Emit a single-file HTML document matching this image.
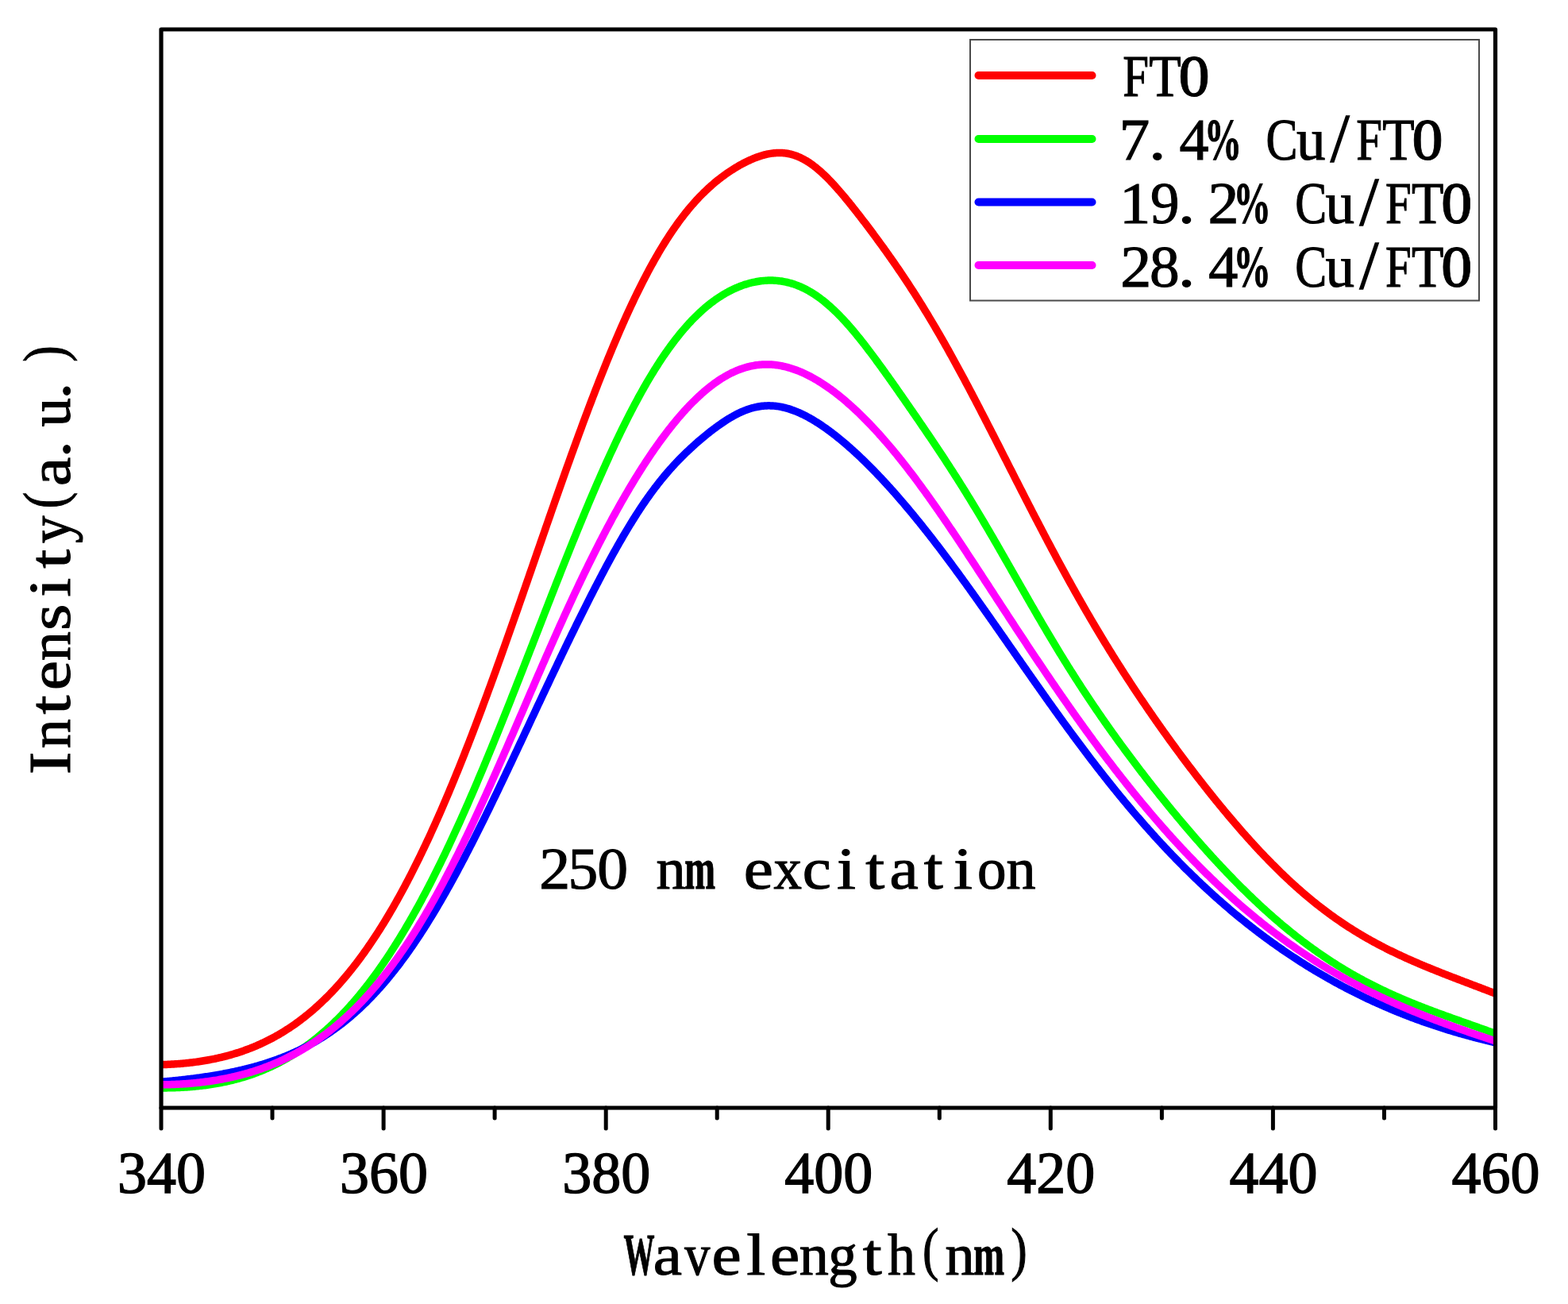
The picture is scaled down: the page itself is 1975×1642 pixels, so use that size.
<!DOCTYPE html>
<html><head><meta charset="utf-8"><title>PL spectra</title>
<style>html,body{margin:0;padding:0;background:#fff;}svg{display:block;filter:blur(0.45px);}</style>
</head><body>
<svg width="1975" height="1642" viewBox="0 0 1975 1642">
<rect width="1975" height="1642" fill="#fff"/>
<defs><clipPath id="pc"><rect x="203" y="37" width="1681" height="1358"/></clipPath></defs>
<g clip-path="url(#pc)" fill="none" stroke-width="9.5" stroke-linejoin="round" stroke-linecap="round">
<path d="M201.0 1340.70L202.5 1340.66L204.0 1340.62L205.5 1340.57L207.0 1340.52L208.5 1340.46L210.0 1340.40L211.5 1340.34L213.0 1340.27L214.5 1340.19L216.0 1340.11L217.5 1340.03L219.0 1339.93L220.5 1339.84L222.0 1339.74L223.5 1339.63L225.0 1339.52L226.5 1339.40L228.0 1339.28L229.5 1339.15L231.0 1339.01L232.5 1338.87L234.0 1338.73L235.5 1338.58L237.0 1338.42L238.5 1338.25L240.0 1338.08L241.5 1337.91L243.0 1337.73L244.5 1337.54L246.0 1337.34L247.5 1337.14L249.0 1336.93L250.5 1336.72L252.0 1336.50L253.5 1336.27L255.0 1336.03L256.5 1335.79L258.0 1335.54L259.5 1335.29L261.0 1335.03L262.5 1334.76L264.0 1334.48L265.5 1334.19L267.0 1333.90L268.5 1333.60L270.0 1333.29L271.5 1332.98L273.0 1332.66L274.5 1332.33L276.0 1331.99L277.5 1331.64L279.0 1331.29L280.5 1330.92L282.0 1330.55L283.5 1330.17L285.0 1329.78L286.5 1329.39L288.0 1328.98L289.5 1328.56L291.0 1328.14L292.5 1327.71L294.0 1327.27L295.5 1326.82L297.0 1326.36L298.5 1325.89L300.0 1325.41L301.5 1324.92L303.0 1324.42L304.5 1323.91L306.0 1323.40L307.5 1322.87L309.0 1322.33L310.5 1321.78L312.0 1321.23L313.5 1320.66L315.0 1320.08L316.5 1319.49L318.0 1318.89L319.5 1318.28L321.0 1317.66L322.5 1317.02L324.0 1316.38L325.5 1315.72L327.0 1315.06L328.5 1314.38L330.0 1313.69L331.5 1312.99L333.0 1312.28L334.5 1311.55L336.0 1310.82L337.5 1310.07L339.0 1309.31L340.5 1308.53L342.0 1307.75L343.5 1306.95L345.0 1306.14L346.5 1305.32L348.0 1304.48L349.5 1303.63L351.0 1302.77L352.5 1301.89L354.0 1301.00L355.5 1300.10L357.0 1299.19L358.5 1298.26L360.0 1297.31L361.5 1296.36L363.0 1295.38L364.5 1294.40L366.0 1293.40L367.5 1292.39L369.0 1291.36L370.5 1290.32L372.0 1289.26L373.5 1288.19L375.0 1287.10L376.5 1286.00L378.0 1284.88L379.5 1283.75L381.0 1282.60L382.5 1281.44L384.0 1280.26L385.5 1279.06L387.0 1277.85L388.5 1276.63L390.0 1275.39L391.5 1274.13L393.0 1272.85L394.5 1271.56L396.0 1270.25L397.5 1268.93L399.0 1267.59L400.5 1266.23L402.0 1264.86L403.5 1263.47L405.0 1262.06L406.5 1260.63L408.0 1259.19L409.5 1257.73L411.0 1256.25L412.5 1254.76L414.0 1253.24L415.5 1251.71L417.0 1250.16L418.5 1248.60L420.0 1247.01L421.5 1245.41L423.0 1243.78L424.5 1242.14L426.0 1240.49L427.5 1238.81L429.0 1237.11L430.5 1235.40L432.0 1233.66L433.5 1231.91L435.0 1230.14L436.5 1228.35L438.0 1226.54L439.5 1224.71L441.0 1222.86L442.5 1220.99L444.0 1219.10L445.5 1217.19L447.0 1215.26L448.5 1213.32L450.0 1211.35L451.5 1209.36L453.0 1207.35L454.5 1205.33L456.0 1203.28L457.5 1201.21L459.0 1199.12L460.5 1197.01L462.0 1194.88L463.5 1192.73L465.0 1190.56L466.5 1188.37L468.0 1186.16L469.5 1183.93L471.0 1181.67L472.5 1179.40L474.0 1177.11L475.5 1174.79L477.0 1172.45L478.5 1170.09L480.0 1167.72L481.5 1165.32L483.0 1162.89L484.5 1160.45L486.0 1157.99L487.5 1155.50L489.0 1153.00L490.5 1150.47L492.0 1147.92L493.5 1145.35L495.0 1142.76L496.5 1140.15L498.0 1137.51L499.5 1134.86L501.0 1132.18L502.5 1129.48L504.0 1126.76L505.5 1124.02L507.0 1121.26L508.5 1118.48L510.0 1115.67L511.5 1112.85L513.0 1110.00L514.5 1107.13L516.0 1104.24L517.5 1101.33L519.0 1098.40L520.5 1095.44L522.0 1092.47L523.5 1089.47L525.0 1086.46L526.5 1083.42L528.0 1080.36L529.5 1077.28L531.0 1074.18L532.5 1071.06L534.0 1067.92L535.5 1064.76L537.0 1061.57L538.5 1058.37L540.0 1055.14L541.5 1051.90L543.0 1048.63L544.5 1045.35L546.0 1042.04L547.5 1038.72L549.0 1035.37L550.5 1032.01L552.0 1028.62L553.5 1025.22L555.0 1021.80L556.5 1018.35L558.0 1014.89L559.5 1011.41L561.0 1007.91L562.5 1004.39L564.0 1000.85L565.5 997.29L567.0 993.71L568.5 990.12L570.0 986.51L571.5 982.88L573.0 979.23L574.5 975.56L576.0 971.88L577.5 968.17L579.0 964.45L580.5 960.72L582.0 956.96L583.5 953.19L585.0 949.41L586.5 945.60L588.0 941.78L589.5 937.95L591.0 934.10L592.5 930.23L594.0 926.35L595.5 922.45L597.0 918.54L598.5 914.61L600.0 910.66L601.5 906.71L603.0 902.74L604.5 898.75L606.0 894.75L607.5 890.74L609.0 886.71L610.5 882.67L612.0 878.62L613.5 874.56L615.0 870.48L616.5 866.39L618.0 862.29L619.5 858.18L621.0 854.05L622.5 849.92L624.0 845.77L625.5 841.62L627.0 837.45L628.5 833.27L630.0 829.09L631.5 824.89L633.0 820.69L634.5 816.47L636.0 812.25L637.5 808.02L639.0 803.78L640.5 799.54L642.0 795.28L643.5 791.02L645.0 786.76L646.5 782.48L648.0 778.20L649.5 773.92L651.0 769.63L652.5 765.33L654.0 761.03L655.5 756.73L657.0 752.42L658.5 748.10L660.0 743.79L661.5 739.47L663.0 735.14L664.5 730.82L666.0 726.49L667.5 722.16L669.0 717.83L670.5 713.50L672.0 709.16L673.5 704.83L675.0 700.50L676.5 696.16L678.0 691.83L679.5 687.50L681.0 683.17L682.5 678.84L684.0 674.51L685.5 670.19L687.0 665.87L688.5 661.55L690.0 657.23L691.5 652.92L693.0 648.61L694.5 644.31L696.0 640.01L697.5 635.72L699.0 631.43L700.5 627.15L702.0 622.88L703.5 618.61L705.0 614.35L706.5 610.09L708.0 605.85L709.5 601.61L711.0 597.38L712.5 593.16L714.0 588.95L715.5 584.75L717.0 580.56L718.5 576.37L720.0 572.20L721.5 568.04L723.0 563.90L724.5 559.76L726.0 555.64L727.5 551.52L729.0 547.42L730.5 543.34L732.0 539.27L733.5 535.21L735.0 531.16L736.5 527.14L738.0 523.12L739.5 519.12L741.0 515.14L742.5 511.17L744.0 507.22L745.5 503.28L747.0 499.37L748.5 495.47L750.0 491.58L751.5 487.72L753.0 483.87L754.5 480.04L756.0 476.23L757.5 472.44L759.0 468.67L760.5 464.92L762.0 461.19L763.5 457.48L765.0 453.79L766.5 450.13L768.0 446.48L769.5 442.86L771.0 439.25L772.5 435.67L774.0 432.11L775.5 428.58L777.0 425.07L778.5 421.58L780.0 418.11L781.5 414.67L783.0 411.25L784.5 407.86L786.0 404.49L787.5 401.15L789.0 397.83L790.5 394.53L792.0 391.27L793.5 388.02L795.0 384.81L796.5 381.62L798.0 378.45L799.5 375.32L801.0 372.21L802.5 369.13L804.0 366.07L805.5 363.04L807.0 360.04L808.5 357.07L810.0 354.12L811.5 351.21L813.0 348.32L814.5 345.46L816.0 342.63L817.5 339.82L819.0 337.05L820.5 334.30L822.0 331.59L823.5 328.90L825.0 326.24L826.5 323.61L828.0 321.01L829.5 318.45L831.0 315.91L832.5 313.39L834.0 310.91L835.5 308.46L837.0 306.04L838.5 303.65L840.0 301.29L841.5 298.96L843.0 296.66L844.5 294.38L846.0 292.14L847.5 289.93L849.0 287.75L850.5 285.59L852.0 283.47L853.5 281.38L855.0 279.31L856.5 277.28L858.0 275.27L859.5 273.29L861.0 271.34L862.5 269.43L864.0 267.54L865.5 265.67L867.0 263.84L868.5 262.04L870.0 260.26L871.5 258.51L873.0 256.79L874.5 255.09L876.0 253.43L877.5 251.79L879.0 250.17L880.5 248.59L882.0 247.02L883.5 245.49L885.0 243.98L886.5 242.50L888.0 241.04L889.5 239.60L891.0 238.19L892.5 236.80L894.0 235.44L895.5 234.10L897.0 232.78L898.5 231.49L900.0 230.22L901.5 228.97L903.0 227.74L904.5 226.54L906.0 225.35L907.5 224.19L909.0 223.05L910.5 221.92L912.0 220.82L913.5 219.74L915.0 218.68L916.5 217.63L918.0 216.61L919.5 215.60L921.0 214.62L922.5 213.65L924.0 212.70L925.5 211.77L927.0 210.86L928.5 209.97L930.0 209.09L931.5 208.24L933.0 207.40L934.5 206.58L936.0 205.78L937.5 205.00L939.0 204.24L940.5 203.50L942.0 202.78L943.5 202.08L945.0 201.39L946.5 200.73L948.0 200.09L949.5 199.47L951.0 198.88L952.5 198.30L954.0 197.75L955.5 197.22L957.0 196.72L958.5 196.24L960.0 195.78L961.5 195.36L963.0 194.95L964.5 194.58L966.0 194.23L967.5 193.91L969.0 193.63L970.5 193.37L972.0 193.14L973.5 192.94L975.0 192.78L976.5 192.64L978.0 192.54L979.5 192.48L981.0 192.45L982.5 192.46L984.0 192.50L985.5 192.58L987.0 192.69L988.5 192.84L990.0 193.04L991.5 193.27L993.0 193.54L994.5 193.84L996.0 194.19L997.5 194.58L999.0 195.01L1000.5 195.48L1002.0 195.99L1003.5 196.55L1005.0 197.14L1006.5 197.77L1008.0 198.45L1009.5 199.17L1011.0 199.92L1012.5 200.72L1014.0 201.56L1015.5 202.44L1017.0 203.36L1018.5 204.31L1020.0 205.31L1021.5 206.34L1023.0 207.42L1024.5 208.53L1026.0 209.67L1027.5 210.85L1029.0 212.07L1030.5 213.32L1032.0 214.61L1033.5 215.92L1035.0 217.27L1036.5 218.65L1038.0 220.06L1039.5 221.50L1041.0 222.97L1042.5 224.47L1044.0 225.99L1045.5 227.54L1047.0 229.12L1048.5 230.71L1050.0 232.33L1051.5 233.98L1053.0 235.64L1054.5 237.32L1056.0 239.03L1057.5 240.75L1059.0 242.49L1060.5 244.25L1062.0 246.02L1063.5 247.81L1065.0 249.61L1066.5 251.43L1068.0 253.26L1069.5 255.10L1071.0 256.95L1072.5 258.82L1074.0 260.70L1075.5 262.59L1077.0 264.48L1078.5 266.39L1080.0 268.31L1081.5 270.23L1083.0 272.17L1084.5 274.11L1086.0 276.06L1087.5 278.02L1089.0 279.98L1090.5 281.96L1092.0 283.94L1093.5 285.92L1095.0 287.92L1096.5 289.92L1098.0 291.93L1099.5 293.94L1101.0 295.96L1102.5 297.99L1104.0 300.03L1105.5 302.07L1107.0 304.12L1108.5 306.18L1110.0 308.24L1111.5 310.32L1113.0 312.40L1114.5 314.49L1116.0 316.58L1117.5 318.69L1119.0 320.80L1120.5 322.92L1122.0 325.05L1123.5 327.19L1125.0 329.34L1126.5 331.50L1128.0 333.67L1129.5 335.84L1131.0 338.03L1132.5 340.23L1134.0 342.44L1135.5 344.66L1137.0 346.88L1138.5 349.12L1140.0 351.37L1141.5 353.64L1143.0 355.91L1144.5 358.19L1146.0 360.49L1147.5 362.79L1149.0 365.11L1150.5 367.44L1152.0 369.79L1153.5 372.14L1155.0 374.50L1156.5 376.88L1158.0 379.27L1159.5 381.67L1161.0 384.09L1162.5 386.51L1164.0 388.95L1165.5 391.40L1167.0 393.87L1168.5 396.34L1170.0 398.83L1171.5 401.33L1173.0 403.84L1174.5 406.36L1176.0 408.89L1177.5 411.44L1179.0 414.00L1180.5 416.57L1182.0 419.15L1183.5 421.74L1185.0 424.34L1186.5 426.96L1188.0 429.59L1189.5 432.22L1191.0 434.87L1192.5 437.53L1194.0 440.20L1195.5 442.88L1197.0 445.57L1198.5 448.27L1200.0 450.98L1201.5 453.70L1203.0 456.43L1204.5 459.17L1206.0 461.92L1207.5 464.68L1209.0 467.45L1210.5 470.23L1212.0 473.01L1213.5 475.80L1215.0 478.61L1216.5 481.42L1218.0 484.23L1219.5 487.06L1221.0 489.89L1222.5 492.73L1224.0 495.58L1225.5 498.43L1227.0 501.29L1228.5 504.16L1230.0 507.03L1231.5 509.91L1233.0 512.79L1234.5 515.68L1236.0 518.58L1237.5 521.48L1239.0 524.38L1240.5 527.29L1242.0 530.21L1243.5 533.12L1245.0 536.05L1246.5 538.97L1248.0 541.90L1249.5 544.83L1251.0 547.77L1252.5 550.70L1254.0 553.64L1255.5 556.59L1257.0 559.53L1258.5 562.48L1260.0 565.43L1261.5 568.37L1263.0 571.33L1264.5 574.28L1266.0 577.23L1267.5 580.18L1269.0 583.13L1270.5 586.09L1272.0 589.04L1273.5 591.99L1275.0 594.94L1276.5 597.89L1278.0 600.84L1279.5 603.79L1281.0 606.74L1282.5 609.68L1284.0 612.62L1285.5 615.57L1287.0 618.50L1288.5 621.44L1290.0 624.37L1291.5 627.30L1293.0 630.23L1294.5 633.15L1296.0 636.07L1297.5 638.99L1299.0 641.90L1300.5 644.81L1302.0 647.72L1303.5 650.62L1305.0 653.51L1306.5 656.40L1308.0 659.29L1309.5 662.17L1311.0 665.05L1312.5 667.92L1314.0 670.78L1315.5 673.64L1317.0 676.49L1318.5 679.34L1320.0 682.18L1321.5 685.02L1323.0 687.84L1324.5 690.67L1326.0 693.48L1327.5 696.29L1329.0 699.09L1330.5 701.89L1332.0 704.68L1333.5 707.46L1335.0 710.23L1336.5 713.00L1338.0 715.76L1339.5 718.51L1341.0 721.25L1342.5 723.99L1344.0 726.72L1345.5 729.44L1347.0 732.15L1348.5 734.85L1350.0 737.55L1351.5 740.24L1353.0 742.92L1354.5 745.59L1356.0 748.26L1357.5 750.91L1359.0 753.56L1360.5 756.20L1362.0 758.83L1363.5 761.45L1365.0 764.07L1366.5 766.67L1368.0 769.27L1369.5 771.86L1371.0 774.44L1372.5 777.01L1374.0 779.57L1375.5 782.13L1377.0 784.67L1378.5 787.21L1380.0 789.74L1381.5 792.26L1383.0 794.77L1384.5 797.27L1386.0 799.77L1387.5 802.26L1389.0 804.73L1390.5 807.20L1392.0 809.67L1393.5 812.12L1395.0 814.56L1396.5 817.00L1398.0 819.43L1399.5 821.85L1401.0 824.26L1402.5 826.66L1404.0 829.06L1405.5 831.45L1407.0 833.83L1408.5 836.20L1410.0 838.56L1411.5 840.92L1413.0 843.26L1414.5 845.60L1416.0 847.94L1417.5 850.26L1419.0 852.58L1420.5 854.89L1422.0 857.19L1423.5 859.48L1425.0 861.77L1426.5 864.05L1428.0 866.32L1429.5 868.59L1431.0 870.85L1432.5 873.10L1434.0 875.34L1435.5 877.58L1437.0 879.81L1438.5 882.03L1440.0 884.24L1441.5 886.45L1443.0 888.65L1444.5 890.85L1446.0 893.04L1447.5 895.22L1449.0 897.40L1450.5 899.57L1452.0 901.73L1453.5 903.88L1455.0 906.03L1456.5 908.18L1458.0 910.32L1459.5 912.45L1461.0 914.57L1462.5 916.69L1464.0 918.80L1465.5 920.91L1467.0 923.01L1468.5 925.10L1470.0 927.19L1471.5 929.28L1473.0 931.35L1474.5 933.42L1476.0 935.49L1477.5 937.55L1479.0 939.60L1480.5 941.65L1482.0 943.69L1483.5 945.73L1485.0 947.76L1486.5 949.78L1488.0 951.80L1489.5 953.81L1491.0 955.82L1492.5 957.82L1494.0 959.82L1495.5 961.81L1497.0 963.80L1498.5 965.78L1500.0 967.75L1501.5 969.72L1503.0 971.68L1504.5 973.64L1506.0 975.59L1507.5 977.54L1509.0 979.48L1510.5 981.41L1512.0 983.34L1513.5 985.26L1515.0 987.18L1516.5 989.09L1518.0 991.00L1519.5 992.90L1521.0 994.80L1522.5 996.68L1524.0 998.57L1525.5 1000.45L1527.0 1002.32L1528.5 1004.18L1530.0 1006.04L1531.5 1007.89L1533.0 1009.74L1534.5 1011.58L1536.0 1013.42L1537.5 1015.25L1539.0 1017.07L1540.5 1018.89L1542.0 1020.70L1543.5 1022.50L1545.0 1024.30L1546.5 1026.09L1548.0 1027.88L1549.5 1029.66L1551.0 1031.43L1552.5 1033.19L1554.0 1034.95L1555.5 1036.71L1557.0 1038.45L1558.5 1040.19L1560.0 1041.92L1561.5 1043.65L1563.0 1045.37L1564.5 1047.08L1566.0 1048.78L1567.5 1050.48L1569.0 1052.17L1570.5 1053.85L1572.0 1055.53L1573.5 1057.20L1575.0 1058.86L1576.5 1060.51L1578.0 1062.16L1579.5 1063.80L1581.0 1065.43L1582.5 1067.05L1584.0 1068.67L1585.5 1070.28L1587.0 1071.88L1588.5 1073.47L1590.0 1075.06L1591.5 1076.64L1593.0 1078.21L1594.5 1079.77L1596.0 1081.32L1597.5 1082.87L1599.0 1084.40L1600.5 1085.93L1602.0 1087.46L1603.5 1088.97L1605.0 1090.47L1606.5 1091.97L1608.0 1093.46L1609.5 1094.94L1611.0 1096.41L1612.5 1097.87L1614.0 1099.33L1615.5 1100.77L1617.0 1102.21L1618.5 1103.64L1620.0 1105.06L1621.5 1106.47L1623.0 1107.88L1624.5 1109.27L1626.0 1110.66L1627.5 1112.03L1629.0 1113.40L1630.5 1114.76L1632.0 1116.11L1633.5 1117.45L1635.0 1118.79L1636.5 1120.11L1638.0 1121.43L1639.5 1122.74L1641.0 1124.03L1642.5 1125.32L1644.0 1126.60L1645.5 1127.87L1647.0 1129.14L1648.5 1130.39L1650.0 1131.64L1651.5 1132.87L1653.0 1134.10L1654.5 1135.32L1656.0 1136.53L1657.5 1137.73L1659.0 1138.92L1660.5 1140.11L1662.0 1141.28L1663.5 1142.45L1665.0 1143.61L1666.5 1144.76L1668.0 1145.90L1669.5 1147.03L1671.0 1148.15L1672.5 1149.27L1674.0 1150.37L1675.5 1151.47L1677.0 1152.56L1678.5 1153.64L1680.0 1154.71L1681.5 1155.78L1683.0 1156.83L1684.5 1157.88L1686.0 1158.92L1687.5 1159.95L1689.0 1160.97L1690.5 1161.99L1692.0 1162.99L1693.5 1163.99L1695.0 1164.98L1696.5 1165.97L1698.0 1166.94L1699.5 1167.91L1701.0 1168.87L1702.5 1169.82L1704.0 1170.77L1705.5 1171.70L1707.0 1172.63L1708.5 1173.55L1710.0 1174.47L1711.5 1175.38L1713.0 1176.28L1714.5 1177.17L1716.0 1178.06L1717.5 1178.93L1719.0 1179.81L1720.5 1180.67L1722.0 1181.53L1723.5 1182.38L1725.0 1183.23L1726.5 1184.06L1728.0 1184.90L1729.5 1185.72L1731.0 1186.54L1732.5 1187.35L1734.0 1188.16L1735.5 1188.96L1737.0 1189.75L1738.5 1190.54L1740.0 1191.33L1741.5 1192.10L1743.0 1192.87L1744.5 1193.64L1746.0 1194.40L1747.5 1195.15L1749.0 1195.90L1750.5 1196.64L1752.0 1197.38L1753.5 1198.12L1755.0 1198.84L1756.5 1199.57L1758.0 1200.29L1759.5 1201.00L1761.0 1201.71L1762.5 1202.41L1764.0 1203.11L1765.5 1203.81L1767.0 1204.50L1768.5 1205.19L1770.0 1205.87L1771.5 1206.55L1773.0 1207.22L1774.5 1207.89L1776.0 1208.56L1777.5 1209.22L1779.0 1209.88L1780.5 1210.53L1782.0 1211.18L1783.5 1211.83L1785.0 1212.48L1786.5 1213.12L1788.0 1213.76L1789.5 1214.39L1791.0 1215.02L1792.5 1215.65L1794.0 1216.28L1795.5 1216.90L1797.0 1217.52L1798.5 1218.14L1800.0 1218.76L1801.5 1219.37L1803.0 1219.98L1804.5 1220.59L1806.0 1221.19L1807.5 1221.80L1809.0 1222.40L1810.5 1223.00L1812.0 1223.60L1813.5 1224.19L1815.0 1224.79L1816.5 1225.38L1818.0 1225.97L1819.5 1226.56L1821.0 1227.14L1822.5 1227.73L1824.0 1228.31L1825.5 1228.90L1827.0 1229.48L1828.5 1230.06L1830.0 1230.64L1831.5 1231.22L1833.0 1231.80L1834.5 1232.37L1836.0 1232.95L1837.5 1233.52L1839.0 1234.10L1840.5 1234.67L1842.0 1235.25L1843.5 1235.82L1845.0 1236.39L1846.5 1236.96L1848.0 1237.53L1849.5 1238.11L1851.0 1238.68L1852.5 1239.25L1854.0 1239.82L1855.5 1240.39L1857.0 1240.96L1858.5 1241.53L1860.0 1242.10L1861.5 1242.67L1863.0 1243.24L1864.5 1243.81L1866.0 1244.38L1867.5 1244.95L1869.0 1245.53L1870.5 1246.10L1872.0 1246.67L1873.5 1247.25L1875.0 1247.82L1876.5 1248.39L1878.0 1248.97L1879.5 1249.55L1881.0 1250.12L1882.5 1250.70L1884.0 1251.28L1885.5 1251.86" stroke="#ff0000"/>
<path d="M201.0 1369.91L202.5 1369.92L204.0 1369.92L205.5 1369.92L207.0 1369.92L208.5 1369.91L210.0 1369.89L211.5 1369.87L213.0 1369.85L214.5 1369.82L216.0 1369.79L217.5 1369.75L219.0 1369.70L220.5 1369.66L222.0 1369.60L223.5 1369.55L225.0 1369.48L226.5 1369.41L228.0 1369.34L229.5 1369.26L231.0 1369.18L232.5 1369.09L234.0 1368.99L235.5 1368.89L237.0 1368.79L238.5 1368.67L240.0 1368.56L241.5 1368.43L243.0 1368.31L244.5 1368.17L246.0 1368.03L247.5 1367.88L249.0 1367.73L250.5 1367.57L252.0 1367.40L253.5 1367.23L255.0 1367.05L256.5 1366.87L258.0 1366.67L259.5 1366.48L261.0 1366.27L262.5 1366.06L264.0 1365.84L265.5 1365.61L267.0 1365.38L268.5 1365.14L270.0 1364.89L271.5 1364.64L273.0 1364.38L274.5 1364.11L276.0 1363.83L277.5 1363.55L279.0 1363.25L280.5 1362.95L282.0 1362.65L283.5 1362.33L285.0 1362.01L286.5 1361.68L288.0 1361.34L289.5 1360.99L291.0 1360.63L292.5 1360.27L294.0 1359.89L295.5 1359.51L297.0 1359.12L298.5 1358.72L300.0 1358.31L301.5 1357.89L303.0 1357.47L304.5 1357.03L306.0 1356.58L307.5 1356.13L309.0 1355.67L310.5 1355.19L312.0 1354.71L313.5 1354.22L315.0 1353.71L316.5 1353.20L318.0 1352.68L319.5 1352.15L321.0 1351.60L322.5 1351.05L324.0 1350.49L325.5 1349.91L327.0 1349.33L328.5 1348.73L330.0 1348.13L331.5 1347.51L333.0 1346.88L334.5 1346.24L336.0 1345.59L337.5 1344.93L339.0 1344.26L340.5 1343.58L342.0 1342.88L343.5 1342.18L345.0 1341.46L346.5 1340.73L348.0 1339.98L349.5 1339.23L351.0 1338.46L352.5 1337.68L354.0 1336.89L355.5 1336.09L357.0 1335.27L358.5 1334.45L360.0 1333.60L361.5 1332.75L363.0 1331.88L364.5 1331.00L366.0 1330.11L367.5 1329.20L369.0 1328.28L370.5 1327.35L372.0 1326.41L373.5 1325.45L375.0 1324.47L376.5 1323.48L378.0 1322.48L379.5 1321.47L381.0 1320.44L382.5 1319.39L384.0 1318.34L385.5 1317.26L387.0 1316.18L388.5 1315.08L390.0 1313.96L391.5 1312.83L393.0 1311.68L394.5 1310.52L396.0 1309.35L397.5 1308.16L399.0 1306.95L400.5 1305.73L402.0 1304.50L403.5 1303.24L405.0 1301.98L406.5 1300.69L408.0 1299.39L409.5 1298.08L411.0 1296.75L412.5 1295.40L414.0 1294.04L415.5 1292.66L417.0 1291.27L418.5 1289.85L420.0 1288.43L421.5 1286.98L423.0 1285.52L424.5 1284.04L426.0 1282.55L427.5 1281.04L429.0 1279.51L430.5 1277.97L432.0 1276.40L433.5 1274.82L435.0 1273.23L436.5 1271.61L438.0 1269.98L439.5 1268.33L441.0 1266.67L442.5 1264.99L444.0 1263.28L445.5 1261.57L447.0 1259.83L448.5 1258.08L450.0 1256.30L451.5 1254.51L453.0 1252.71L454.5 1250.88L456.0 1249.04L457.5 1247.18L459.0 1245.30L460.5 1243.40L462.0 1241.48L463.5 1239.55L465.0 1237.59L466.5 1235.62L468.0 1233.63L469.5 1231.62L471.0 1229.60L472.5 1227.55L474.0 1225.49L475.5 1223.40L477.0 1221.30L478.5 1219.18L480.0 1217.04L481.5 1214.88L483.0 1212.71L484.5 1210.51L486.0 1208.30L487.5 1206.07L489.0 1203.82L490.5 1201.55L492.0 1199.26L493.5 1196.95L495.0 1194.62L496.5 1192.28L498.0 1189.91L499.5 1187.53L501.0 1185.13L502.5 1182.71L504.0 1180.27L505.5 1177.81L507.0 1175.33L508.5 1172.83L510.0 1170.32L511.5 1167.79L513.0 1165.23L514.5 1162.66L516.0 1160.07L517.5 1157.46L519.0 1154.84L520.5 1152.19L522.0 1149.53L523.5 1146.84L525.0 1144.14L526.5 1141.42L528.0 1138.69L529.5 1135.93L531.0 1133.15L532.5 1130.36L534.0 1127.55L535.5 1124.72L537.0 1121.87L538.5 1119.01L540.0 1116.13L541.5 1113.23L543.0 1110.31L544.5 1107.37L546.0 1104.42L547.5 1101.45L549.0 1098.46L550.5 1095.45L552.0 1092.43L553.5 1089.39L555.0 1086.33L556.5 1083.25L558.0 1080.16L559.5 1077.06L561.0 1073.93L562.5 1070.79L564.0 1067.63L565.5 1064.46L567.0 1061.27L568.5 1058.06L570.0 1054.84L571.5 1051.60L573.0 1048.35L574.5 1045.08L576.0 1041.79L577.5 1038.50L579.0 1035.18L580.5 1031.85L582.0 1028.51L583.5 1025.15L585.0 1021.77L586.5 1018.39L588.0 1014.98L589.5 1011.57L591.0 1008.14L592.5 1004.69L594.0 1001.24L595.5 997.77L597.0 994.28L598.5 990.79L600.0 987.28L601.5 983.75L603.0 980.22L604.5 976.67L606.0 973.12L607.5 969.55L609.0 965.96L610.5 962.37L612.0 958.77L613.5 955.15L615.0 951.52L616.5 947.89L618.0 944.24L619.5 940.58L621.0 936.91L622.5 933.24L624.0 929.55L625.5 925.86L627.0 922.15L628.5 918.44L630.0 914.72L631.5 910.99L633.0 907.25L634.5 903.50L636.0 899.75L637.5 895.99L639.0 892.22L640.5 888.44L642.0 884.66L643.5 880.88L645.0 877.08L646.5 873.28L648.0 869.48L649.5 865.67L651.0 861.85L652.5 858.03L654.0 854.21L655.5 850.38L657.0 846.55L658.5 842.72L660.0 838.88L661.5 835.04L663.0 831.19L664.5 827.34L666.0 823.50L667.5 819.64L669.0 815.79L670.5 811.94L672.0 808.08L673.5 804.23L675.0 800.37L676.5 796.52L678.0 792.66L679.5 788.81L681.0 784.95L682.5 781.10L684.0 777.25L685.5 773.40L687.0 769.55L688.5 765.70L690.0 761.86L691.5 758.02L693.0 754.18L694.5 750.35L696.0 746.52L697.5 742.70L699.0 738.88L700.5 735.06L702.0 731.25L703.5 727.44L705.0 723.64L706.5 719.85L708.0 716.06L709.5 712.28L711.0 708.51L712.5 704.74L714.0 700.99L715.5 697.24L717.0 693.49L718.5 689.76L720.0 686.04L721.5 682.32L723.0 678.61L724.5 674.92L726.0 671.23L727.5 667.56L729.0 663.89L730.5 660.24L732.0 656.60L733.5 652.97L735.0 649.35L736.5 645.74L738.0 642.15L739.5 638.57L741.0 635.00L742.5 631.45L744.0 627.91L745.5 624.38L747.0 620.87L748.5 617.37L750.0 613.89L751.5 610.43L753.0 606.98L754.5 603.54L756.0 600.12L757.5 596.72L759.0 593.34L760.5 589.97L762.0 586.62L763.5 583.28L765.0 579.97L766.5 576.67L768.0 573.39L769.5 570.13L771.0 566.89L772.5 563.67L774.0 560.47L775.5 557.29L777.0 554.12L778.5 550.98L780.0 547.86L781.5 544.76L783.0 541.68L784.5 538.62L786.0 535.58L787.5 532.57L789.0 529.57L790.5 526.60L792.0 523.65L793.5 520.73L795.0 517.82L796.5 514.94L798.0 512.09L799.5 509.25L801.0 506.44L802.5 503.65L804.0 500.89L805.5 498.15L807.0 495.44L808.5 492.75L810.0 490.08L811.5 487.44L813.0 484.83L814.5 482.24L816.0 479.67L817.5 477.13L819.0 474.62L820.5 472.13L822.0 469.67L823.5 467.23L825.0 464.82L826.5 462.44L828.0 460.08L829.5 457.75L831.0 455.44L832.5 453.16L834.0 450.91L835.5 448.69L837.0 446.49L838.5 444.31L840.0 442.17L841.5 440.05L843.0 437.96L844.5 435.90L846.0 433.86L847.5 431.85L849.0 429.86L850.5 427.91L852.0 425.98L853.5 424.08L855.0 422.20L856.5 420.35L858.0 418.53L859.5 416.74L861.0 414.97L862.5 413.23L864.0 411.52L865.5 409.83L867.0 408.17L868.5 406.54L870.0 404.93L871.5 403.35L873.0 401.80L874.5 400.27L876.0 398.77L877.5 397.30L879.0 395.85L880.5 394.43L882.0 393.03L883.5 391.66L885.0 390.32L886.5 389.00L888.0 387.71L889.5 386.44L891.0 385.20L892.5 383.98L894.0 382.79L895.5 381.62L897.0 380.48L898.5 379.36L900.0 378.27L901.5 377.20L903.0 376.16L904.5 375.14L906.0 374.14L907.5 373.17L909.0 372.22L910.5 371.30L912.0 370.40L913.5 369.52L915.0 368.67L916.5 367.84L918.0 367.03L919.5 366.25L921.0 365.49L922.5 364.75L924.0 364.04L925.5 363.34L927.0 362.68L928.5 362.03L930.0 361.41L931.5 360.80L933.0 360.23L934.5 359.67L936.0 359.13L937.5 358.62L939.0 358.13L940.5 357.67L942.0 357.22L943.5 356.80L945.0 356.40L946.5 356.02L948.0 355.67L949.5 355.34L951.0 355.03L952.5 354.74L954.0 354.47L955.5 354.23L957.0 354.01L958.5 353.81L960.0 353.64L961.5 353.49L963.0 353.36L964.5 353.26L966.0 353.18L967.5 353.12L969.0 353.08L970.5 353.07L972.0 353.09L973.5 353.12L975.0 353.18L976.5 353.27L978.0 353.38L979.5 353.51L981.0 353.67L982.5 353.86L984.0 354.07L985.5 354.30L987.0 354.56L988.5 354.85L990.0 355.16L991.5 355.50L993.0 355.86L994.5 356.25L996.0 356.67L997.5 357.11L999.0 357.59L1000.5 358.08L1002.0 358.61L1003.5 359.16L1005.0 359.74L1006.5 360.34L1008.0 360.98L1009.5 361.64L1011.0 362.33L1012.5 363.05L1014.0 363.79L1015.5 364.56L1017.0 365.37L1018.5 366.20L1020.0 367.05L1021.5 367.94L1023.0 368.85L1024.5 369.80L1026.0 370.77L1027.5 371.76L1029.0 372.79L1030.5 373.84L1032.0 374.93L1033.5 376.04L1035.0 377.17L1036.5 378.34L1038.0 379.53L1039.5 380.75L1041.0 382.00L1042.5 383.27L1044.0 384.57L1045.5 385.90L1047.0 387.25L1048.5 388.63L1050.0 390.03L1051.5 391.46L1053.0 392.91L1054.5 394.39L1056.0 395.89L1057.5 397.42L1059.0 398.97L1060.5 400.54L1062.0 402.13L1063.5 403.75L1065.0 405.39L1066.5 407.05L1068.0 408.73L1069.5 410.43L1071.0 412.15L1072.5 413.89L1074.0 415.66L1075.5 417.43L1077.0 419.23L1078.5 421.04L1080.0 422.88L1081.5 424.72L1083.0 426.59L1084.5 428.47L1086.0 430.36L1087.5 432.27L1089.0 434.19L1090.5 436.13L1092.0 438.08L1093.5 440.04L1095.0 442.02L1096.5 444.00L1098.0 446.00L1099.5 448.01L1101.0 450.02L1102.5 452.05L1104.0 454.09L1105.5 456.13L1107.0 458.18L1108.5 460.25L1110.0 462.31L1111.5 464.39L1113.0 466.47L1114.5 468.56L1116.0 470.66L1117.5 472.76L1119.0 474.86L1120.5 476.97L1122.0 479.09L1123.5 481.21L1125.0 483.34L1126.5 485.46L1128.0 487.60L1129.5 489.73L1131.0 491.87L1132.5 494.02L1134.0 496.16L1135.5 498.31L1137.0 500.46L1138.5 502.62L1140.0 504.78L1141.5 506.94L1143.0 509.10L1144.5 511.26L1146.0 513.43L1147.5 515.60L1149.0 517.77L1150.5 519.95L1152.0 522.13L1153.5 524.31L1155.0 526.49L1156.5 528.68L1158.0 530.86L1159.5 533.06L1161.0 535.25L1162.5 537.45L1164.0 539.65L1165.5 541.85L1167.0 544.06L1168.5 546.27L1170.0 548.49L1171.5 550.71L1173.0 552.94L1174.5 555.16L1176.0 557.40L1177.5 559.64L1179.0 561.88L1180.5 564.13L1182.0 566.38L1183.5 568.64L1185.0 570.90L1186.5 573.17L1188.0 575.45L1189.5 577.73L1191.0 580.02L1192.5 582.32L1194.0 584.62L1195.5 586.93L1197.0 589.25L1198.5 591.57L1200.0 593.90L1201.5 596.24L1203.0 598.58L1204.5 600.93L1206.0 603.29L1207.5 605.66L1209.0 608.04L1210.5 610.42L1212.0 612.82L1213.5 615.22L1215.0 617.62L1216.5 620.04L1218.0 622.46L1219.5 624.90L1221.0 627.34L1222.5 629.78L1224.0 632.24L1225.5 634.70L1227.0 637.18L1228.5 639.66L1230.0 642.15L1231.5 644.64L1233.0 647.14L1234.5 649.65L1236.0 652.17L1237.5 654.70L1239.0 657.23L1240.5 659.77L1242.0 662.31L1243.5 664.86L1245.0 667.42L1246.5 669.99L1248.0 672.56L1249.5 675.13L1251.0 677.71L1252.5 680.30L1254.0 682.89L1255.5 685.49L1257.0 688.09L1258.5 690.69L1260.0 693.30L1261.5 695.91L1263.0 698.53L1264.5 701.15L1266.0 703.77L1267.5 706.39L1269.0 709.02L1270.5 711.64L1272.0 714.27L1273.5 716.90L1275.0 719.53L1276.5 722.17L1278.0 724.80L1279.5 727.43L1281.0 730.06L1282.5 732.70L1284.0 735.33L1285.5 737.96L1287.0 740.58L1288.5 743.21L1290.0 745.84L1291.5 748.46L1293.0 751.08L1294.5 753.70L1296.0 756.31L1297.5 758.92L1299.0 761.53L1300.5 764.13L1302.0 766.73L1303.5 769.32L1305.0 771.91L1306.5 774.50L1308.0 777.08L1309.5 779.65L1311.0 782.22L1312.5 784.78L1314.0 787.34L1315.5 789.89L1317.0 792.44L1318.5 794.97L1320.0 797.50L1321.5 800.03L1323.0 802.55L1324.5 805.06L1326.0 807.56L1327.5 810.06L1329.0 812.55L1330.5 815.03L1332.0 817.50L1333.5 819.97L1335.0 822.42L1336.5 824.87L1338.0 827.31L1339.5 829.75L1341.0 832.17L1342.5 834.59L1344.0 837.00L1345.5 839.40L1347.0 841.79L1348.5 844.17L1350.0 846.55L1351.5 848.91L1353.0 851.27L1354.5 853.62L1356.0 855.96L1357.5 858.29L1359.0 860.62L1360.5 862.93L1362.0 865.24L1363.5 867.54L1365.0 869.83L1366.5 872.11L1368.0 874.38L1369.5 876.65L1371.0 878.91L1372.5 881.16L1374.0 883.40L1375.5 885.63L1377.0 887.85L1378.5 890.07L1380.0 892.28L1381.5 894.48L1383.0 896.67L1384.5 898.86L1386.0 901.04L1387.5 903.21L1389.0 905.37L1390.5 907.53L1392.0 909.67L1393.5 911.82L1395.0 913.95L1396.5 916.08L1398.0 918.19L1399.5 920.31L1401.0 922.41L1402.5 924.51L1404.0 926.60L1405.5 928.69L1407.0 930.77L1408.5 932.84L1410.0 934.90L1411.5 936.96L1413.0 939.02L1414.5 941.06L1416.0 943.10L1417.5 945.14L1419.0 947.16L1420.5 949.18L1422.0 951.20L1423.5 953.21L1425.0 955.21L1426.5 957.21L1428.0 959.20L1429.5 961.19L1431.0 963.17L1432.5 965.15L1434.0 967.12L1435.5 969.08L1437.0 971.04L1438.5 972.99L1440.0 974.94L1441.5 976.88L1443.0 978.82L1444.5 980.75L1446.0 982.68L1447.5 984.60L1449.0 986.52L1450.5 988.43L1452.0 990.33L1453.5 992.24L1455.0 994.13L1456.5 996.02L1458.0 997.91L1459.5 999.79L1461.0 1001.66L1462.5 1003.53L1464.0 1005.40L1465.5 1007.26L1467.0 1009.11L1468.5 1010.96L1470.0 1012.81L1471.5 1014.65L1473.0 1016.48L1474.5 1018.31L1476.0 1020.14L1477.5 1021.96L1479.0 1023.77L1480.5 1025.58L1482.0 1027.39L1483.5 1029.19L1485.0 1030.98L1486.5 1032.77L1488.0 1034.55L1489.5 1036.33L1491.0 1038.11L1492.5 1039.88L1494.0 1041.64L1495.5 1043.40L1497.0 1045.15L1498.5 1046.90L1500.0 1048.64L1501.5 1050.38L1503.0 1052.11L1504.5 1053.84L1506.0 1055.56L1507.5 1057.28L1509.0 1058.99L1510.5 1060.70L1512.0 1062.40L1513.5 1064.09L1515.0 1065.78L1516.5 1067.46L1518.0 1069.14L1519.5 1070.81L1521.0 1072.48L1522.5 1074.14L1524.0 1075.80L1525.5 1077.45L1527.0 1079.09L1528.5 1080.73L1530.0 1082.37L1531.5 1083.99L1533.0 1085.61L1534.5 1087.23L1536.0 1088.84L1537.5 1090.44L1539.0 1092.04L1540.5 1093.63L1542.0 1095.22L1543.5 1096.80L1545.0 1098.37L1546.5 1099.94L1548.0 1101.50L1549.5 1103.06L1551.0 1104.61L1552.5 1106.15L1554.0 1107.69L1555.5 1109.22L1557.0 1110.74L1558.5 1112.26L1560.0 1113.77L1561.5 1115.28L1563.0 1116.78L1564.5 1118.27L1566.0 1119.75L1567.5 1121.23L1569.0 1122.71L1570.5 1124.17L1572.0 1125.63L1573.5 1127.09L1575.0 1128.53L1576.5 1129.97L1578.0 1131.41L1579.5 1132.83L1581.0 1134.25L1582.5 1135.67L1584.0 1137.07L1585.5 1138.47L1587.0 1139.87L1588.5 1141.25L1590.0 1142.63L1591.5 1144.01L1593.0 1145.37L1594.5 1146.73L1596.0 1148.08L1597.5 1149.43L1599.0 1150.77L1600.5 1152.10L1602.0 1153.42L1603.5 1154.74L1605.0 1156.05L1606.5 1157.36L1608.0 1158.65L1609.5 1159.94L1611.0 1161.23L1612.5 1162.50L1614.0 1163.77L1615.5 1165.03L1617.0 1166.29L1618.5 1167.53L1620.0 1168.77L1621.5 1170.01L1623.0 1171.23L1624.5 1172.45L1626.0 1173.66L1627.5 1174.87L1629.0 1176.07L1630.5 1177.26L1632.0 1178.44L1633.5 1179.62L1635.0 1180.79L1636.5 1181.95L1638.0 1183.11L1639.5 1184.25L1641.0 1185.40L1642.5 1186.53L1644.0 1187.66L1645.5 1188.78L1647.0 1189.89L1648.5 1191.00L1650.0 1192.10L1651.5 1193.19L1653.0 1194.27L1654.5 1195.35L1656.0 1196.42L1657.5 1197.49L1659.0 1198.54L1660.5 1199.59L1662.0 1200.64L1663.5 1201.67L1665.0 1202.70L1666.5 1203.72L1668.0 1204.74L1669.5 1205.75L1671.0 1206.75L1672.5 1207.74L1674.0 1208.73L1675.5 1209.71L1677.0 1210.69L1678.5 1211.66L1680.0 1212.62L1681.5 1213.57L1683.0 1214.52L1684.5 1215.46L1686.0 1216.40L1687.5 1217.33L1689.0 1218.25L1690.5 1219.16L1692.0 1220.07L1693.5 1220.97L1695.0 1221.87L1696.5 1222.76L1698.0 1223.64L1699.5 1224.52L1701.0 1225.39L1702.5 1226.25L1704.0 1227.11L1705.5 1227.97L1707.0 1228.81L1708.5 1229.65L1710.0 1230.48L1711.5 1231.31L1713.0 1232.13L1714.5 1232.95L1716.0 1233.76L1717.5 1234.57L1719.0 1235.36L1720.5 1236.16L1722.0 1236.94L1723.5 1237.73L1725.0 1238.50L1726.5 1239.27L1728.0 1240.04L1729.5 1240.80L1731.0 1241.55L1732.5 1242.30L1734.0 1243.04L1735.5 1243.78L1737.0 1244.51L1738.5 1245.24L1740.0 1245.96L1741.5 1246.68L1743.0 1247.39L1744.5 1248.10L1746.0 1248.80L1747.5 1249.50L1749.0 1250.20L1750.5 1250.88L1752.0 1251.57L1753.5 1252.25L1755.0 1252.92L1756.5 1253.59L1758.0 1254.26L1759.5 1254.92L1761.0 1255.58L1762.5 1256.23L1764.0 1256.88L1765.5 1257.53L1767.0 1258.17L1768.5 1258.81L1770.0 1259.44L1771.5 1260.07L1773.0 1260.69L1774.5 1261.32L1776.0 1261.93L1777.5 1262.55L1779.0 1263.16L1780.5 1263.77L1782.0 1264.37L1783.5 1264.98L1785.0 1265.57L1786.5 1266.17L1788.0 1266.76L1789.5 1267.35L1791.0 1267.94L1792.5 1268.52L1794.0 1269.10L1795.5 1269.68L1797.0 1270.25L1798.5 1270.83L1800.0 1271.40L1801.5 1271.97L1803.0 1272.53L1804.5 1273.09L1806.0 1273.66L1807.5 1274.21L1809.0 1274.77L1810.5 1275.33L1812.0 1275.88L1813.5 1276.43L1815.0 1276.98L1816.5 1277.53L1818.0 1278.08L1819.5 1278.62L1821.0 1279.16L1822.5 1279.71L1824.0 1280.25L1825.5 1280.79L1827.0 1281.32L1828.5 1281.86L1830.0 1282.40L1831.5 1282.93L1833.0 1283.47L1834.5 1284.00L1836.0 1284.54L1837.5 1285.07L1839.0 1285.60L1840.5 1286.13L1842.0 1286.67L1843.5 1287.20L1845.0 1287.73L1846.5 1288.26L1848.0 1288.79L1849.5 1289.32L1851.0 1289.85L1852.5 1290.38L1854.0 1290.92L1855.5 1291.45L1857.0 1291.98L1858.5 1292.51L1860.0 1293.05L1861.5 1293.58L1863.0 1294.12L1864.5 1294.65L1866.0 1295.19L1867.5 1295.73L1869.0 1296.26L1870.5 1296.80L1872.0 1297.34L1873.5 1297.89L1875.0 1298.43L1876.5 1298.98L1878.0 1299.52L1879.5 1300.07L1881.0 1300.62L1882.5 1301.17L1884.0 1301.72L1885.5 1302.28" stroke="#00ff00"/>
<path d="M201.0 1362.46L202.5 1362.33L204.0 1362.20L205.5 1362.07L207.0 1361.94L208.5 1361.81L210.0 1361.67L211.5 1361.53L213.0 1361.39L214.5 1361.25L216.0 1361.11L217.5 1360.96L219.0 1360.81L220.5 1360.66L222.0 1360.51L223.5 1360.35L225.0 1360.19L226.5 1360.03L228.0 1359.87L229.5 1359.70L231.0 1359.54L232.5 1359.37L234.0 1359.19L235.5 1359.02L237.0 1358.84L238.5 1358.66L240.0 1358.48L241.5 1358.29L243.0 1358.10L244.5 1357.91L246.0 1357.71L247.5 1357.52L249.0 1357.32L250.5 1357.11L252.0 1356.90L253.5 1356.69L255.0 1356.48L256.5 1356.26L258.0 1356.04L259.5 1355.82L261.0 1355.60L262.5 1355.36L264.0 1355.13L265.5 1354.89L267.0 1354.65L268.5 1354.41L270.0 1354.16L271.5 1353.91L273.0 1353.65L274.5 1353.39L276.0 1353.13L277.5 1352.86L279.0 1352.59L280.5 1352.31L282.0 1352.03L283.5 1351.75L285.0 1351.46L286.5 1351.17L288.0 1350.87L289.5 1350.57L291.0 1350.26L292.5 1349.95L294.0 1349.63L295.5 1349.31L297.0 1348.99L298.5 1348.66L300.0 1348.32L301.5 1347.98L303.0 1347.63L304.5 1347.28L306.0 1346.93L307.5 1346.56L309.0 1346.20L310.5 1345.82L312.0 1345.44L313.5 1345.06L315.0 1344.67L316.5 1344.27L318.0 1343.87L319.5 1343.46L321.0 1343.05L322.5 1342.63L324.0 1342.20L325.5 1341.77L327.0 1341.33L328.5 1340.88L330.0 1340.43L331.5 1339.96L333.0 1339.50L334.5 1339.02L336.0 1338.54L337.5 1338.05L339.0 1337.56L340.5 1337.06L342.0 1336.55L343.5 1336.03L345.0 1335.50L346.5 1334.97L348.0 1334.43L349.5 1333.88L351.0 1333.32L352.5 1332.75L354.0 1332.18L355.5 1331.60L357.0 1331.01L358.5 1330.41L360.0 1329.80L361.5 1329.18L363.0 1328.55L364.5 1327.92L366.0 1327.27L367.5 1326.62L369.0 1325.96L370.5 1325.28L372.0 1324.60L373.5 1323.91L375.0 1323.20L376.5 1322.49L378.0 1321.77L379.5 1321.04L381.0 1320.29L382.5 1319.54L384.0 1318.77L385.5 1318.00L387.0 1317.21L388.5 1316.42L390.0 1315.61L391.5 1314.79L393.0 1313.96L394.5 1313.11L396.0 1312.26L397.5 1311.39L399.0 1310.52L400.5 1309.63L402.0 1308.72L403.5 1307.81L405.0 1306.88L406.5 1305.94L408.0 1304.99L409.5 1304.03L411.0 1303.05L412.5 1302.06L414.0 1301.05L415.5 1300.04L417.0 1299.01L418.5 1297.96L420.0 1296.90L421.5 1295.83L423.0 1294.75L424.5 1293.65L426.0 1292.53L427.5 1291.40L429.0 1290.26L430.5 1289.11L432.0 1287.93L433.5 1286.75L435.0 1285.55L436.5 1284.33L438.0 1283.10L439.5 1281.85L441.0 1280.59L442.5 1279.31L444.0 1278.02L445.5 1276.71L447.0 1275.39L448.5 1274.05L450.0 1272.69L451.5 1271.32L453.0 1269.93L454.5 1268.53L456.0 1267.10L457.5 1265.67L459.0 1264.21L460.5 1262.74L462.0 1261.26L463.5 1259.75L465.0 1258.23L466.5 1256.69L468.0 1255.14L469.5 1253.56L471.0 1251.97L472.5 1250.37L474.0 1248.74L475.5 1247.10L477.0 1245.44L478.5 1243.76L480.0 1242.07L481.5 1240.36L483.0 1238.63L484.5 1236.88L486.0 1235.11L487.5 1233.33L489.0 1231.53L490.5 1229.71L492.0 1227.87L493.5 1226.02L495.0 1224.14L496.5 1222.25L498.0 1220.34L499.5 1218.41L501.0 1216.47L502.5 1214.50L504.0 1212.52L505.5 1210.52L507.0 1208.50L508.5 1206.46L510.0 1204.41L511.5 1202.34L513.0 1200.25L514.5 1198.14L516.0 1196.01L517.5 1193.86L519.0 1191.70L520.5 1189.52L522.0 1187.32L523.5 1185.10L525.0 1182.87L526.5 1180.62L528.0 1178.34L529.5 1176.06L531.0 1173.75L532.5 1171.43L534.0 1169.09L535.5 1166.73L537.0 1164.35L538.5 1161.96L540.0 1159.55L541.5 1157.12L543.0 1154.68L544.5 1152.22L546.0 1149.74L547.5 1147.25L549.0 1144.74L550.5 1142.21L552.0 1139.67L553.5 1137.11L555.0 1134.54L556.5 1131.95L558.0 1129.34L559.5 1126.72L561.0 1124.08L562.5 1121.43L564.0 1118.76L565.5 1116.08L567.0 1113.38L568.5 1110.67L570.0 1107.94L571.5 1105.20L573.0 1102.44L574.5 1099.68L576.0 1096.89L577.5 1094.10L579.0 1091.29L580.5 1088.46L582.0 1085.63L583.5 1082.78L585.0 1079.92L586.5 1077.05L588.0 1074.16L589.5 1071.26L591.0 1068.35L592.5 1065.43L594.0 1062.50L595.5 1059.56L597.0 1056.60L598.5 1053.64L600.0 1050.66L601.5 1047.68L603.0 1044.68L604.5 1041.67L606.0 1038.66L607.5 1035.64L609.0 1032.60L610.5 1029.56L612.0 1026.51L613.5 1023.45L615.0 1020.38L616.5 1017.31L618.0 1014.22L619.5 1011.13L621.0 1008.04L622.5 1004.93L624.0 1001.82L625.5 998.70L627.0 995.58L628.5 992.45L630.0 989.31L631.5 986.17L633.0 983.03L634.5 979.88L636.0 976.72L637.5 973.56L639.0 970.39L640.5 967.22L642.0 964.05L643.5 960.87L645.0 957.69L646.5 954.51L648.0 951.33L649.5 948.14L651.0 944.95L652.5 941.75L654.0 938.56L655.5 935.36L657.0 932.16L658.5 928.96L660.0 925.76L661.5 922.56L663.0 919.36L664.5 916.16L666.0 912.95L667.5 909.75L669.0 906.55L670.5 903.35L672.0 900.14L673.5 896.94L675.0 893.74L676.5 890.54L678.0 887.35L679.5 884.15L681.0 880.96L682.5 877.77L684.0 874.58L685.5 871.39L687.0 868.21L688.5 865.02L690.0 861.85L691.5 858.67L693.0 855.50L694.5 852.33L696.0 849.17L697.5 846.00L699.0 842.85L700.5 839.70L702.0 836.55L703.5 833.40L705.0 830.26L706.5 827.13L708.0 824.00L709.5 820.88L711.0 817.76L712.5 814.65L714.0 811.54L715.5 808.44L717.0 805.35L718.5 802.26L720.0 799.18L721.5 796.11L723.0 793.04L724.5 789.98L726.0 786.93L727.5 783.88L729.0 780.84L730.5 777.81L732.0 774.79L733.5 771.78L735.0 768.77L736.5 765.78L738.0 762.79L739.5 759.81L741.0 756.84L742.5 753.88L744.0 750.93L745.5 747.99L747.0 745.06L748.5 742.14L750.0 739.23L751.5 736.34L753.0 733.45L754.5 730.58L756.0 727.71L757.5 724.86L759.0 722.02L760.5 719.20L762.0 716.38L763.5 713.59L765.0 710.80L766.5 708.03L768.0 705.27L769.5 702.53L771.0 699.80L772.5 697.08L774.0 694.39L775.5 691.70L777.0 689.04L778.5 686.39L780.0 683.76L781.5 681.14L783.0 678.55L784.5 675.97L786.0 673.40L787.5 670.86L789.0 668.34L790.5 665.83L792.0 663.35L793.5 660.89L795.0 658.44L796.5 656.02L798.0 653.62L799.5 651.23L801.0 648.88L802.5 646.54L804.0 644.22L805.5 641.93L807.0 639.66L808.5 637.41L810.0 635.18L811.5 632.98L813.0 630.80L814.5 628.65L816.0 626.52L817.5 624.41L819.0 622.32L820.5 620.26L822.0 618.23L823.5 616.21L825.0 614.23L826.5 612.26L828.0 610.32L829.5 608.40L831.0 606.50L832.5 604.63L834.0 602.78L835.5 600.96L837.0 599.15L838.5 597.37L840.0 595.61L841.5 593.88L843.0 592.16L844.5 590.47L846.0 588.79L847.5 587.14L849.0 585.51L850.5 583.89L852.0 582.30L853.5 580.72L855.0 579.17L856.5 577.63L858.0 576.11L859.5 574.60L861.0 573.11L862.5 571.64L864.0 570.19L865.5 568.75L867.0 567.32L868.5 565.92L870.0 564.52L871.5 563.14L873.0 561.77L874.5 560.42L876.0 559.08L877.5 557.76L879.0 556.45L880.5 555.15L882.0 553.86L883.5 552.59L885.0 551.33L886.5 550.08L888.0 548.84L889.5 547.62L891.0 546.41L892.5 545.21L894.0 544.03L895.5 542.86L897.0 541.71L898.5 540.56L900.0 539.44L901.5 538.32L903.0 537.22L904.5 536.14L906.0 535.07L907.5 534.02L909.0 532.99L910.5 531.97L912.0 530.97L913.5 529.99L915.0 529.03L916.5 528.08L918.0 527.16L919.5 526.25L921.0 525.37L922.5 524.51L924.0 523.67L925.5 522.85L927.0 522.06L928.5 521.29L930.0 520.54L931.5 519.82L933.0 519.12L934.5 518.45L936.0 517.80L937.5 517.19L939.0 516.59L940.5 516.03L942.0 515.49L943.5 514.99L945.0 514.51L946.5 514.06L948.0 513.63L949.5 513.24L951.0 512.88L952.5 512.54L954.0 512.24L955.5 511.97L957.0 511.72L958.5 511.51L960.0 511.33L961.5 511.17L963.0 511.05L964.5 510.96L966.0 510.89L967.5 510.86L969.0 510.86L970.5 510.88L972.0 510.94L973.5 511.02L975.0 511.14L976.5 511.28L978.0 511.45L979.5 511.65L981.0 511.88L982.5 512.13L984.0 512.42L985.5 512.73L987.0 513.06L988.5 513.43L990.0 513.81L991.5 514.23L993.0 514.67L994.5 515.13L996.0 515.62L997.5 516.14L999.0 516.68L1000.5 517.24L1002.0 517.82L1003.5 518.43L1005.0 519.06L1006.5 519.71L1008.0 520.38L1009.5 521.08L1011.0 521.79L1012.5 522.53L1014.0 523.29L1015.5 524.06L1017.0 524.86L1018.5 525.67L1020.0 526.51L1021.5 527.36L1023.0 528.23L1024.5 529.12L1026.0 530.02L1027.5 530.95L1029.0 531.89L1030.5 532.84L1032.0 533.82L1033.5 534.81L1035.0 535.81L1036.5 536.83L1038.0 537.87L1039.5 538.92L1041.0 539.99L1042.5 541.07L1044.0 542.16L1045.5 543.27L1047.0 544.40L1048.5 545.54L1050.0 546.69L1051.5 547.85L1053.0 549.03L1054.5 550.22L1056.0 551.43L1057.5 552.65L1059.0 553.88L1060.5 555.12L1062.0 556.37L1063.5 557.64L1065.0 558.92L1066.5 560.21L1068.0 561.51L1069.5 562.83L1071.0 564.16L1072.5 565.49L1074.0 566.84L1075.5 568.20L1077.0 569.57L1078.5 570.96L1080.0 572.35L1081.5 573.75L1083.0 575.17L1084.5 576.59L1086.0 578.03L1087.5 579.47L1089.0 580.93L1090.5 582.40L1092.0 583.87L1093.5 585.36L1095.0 586.86L1096.5 588.36L1098.0 589.88L1099.5 591.41L1101.0 592.94L1102.5 594.49L1104.0 596.04L1105.5 597.61L1107.0 599.18L1108.5 600.76L1110.0 602.36L1111.5 603.96L1113.0 605.57L1114.5 607.19L1116.0 608.82L1117.5 610.46L1119.0 612.10L1120.5 613.76L1122.0 615.42L1123.5 617.10L1125.0 618.78L1126.5 620.47L1128.0 622.17L1129.5 623.87L1131.0 625.59L1132.5 627.31L1134.0 629.04L1135.5 630.78L1137.0 632.53L1138.5 634.29L1140.0 636.05L1141.5 637.83L1143.0 639.61L1144.5 641.39L1146.0 643.19L1147.5 644.99L1149.0 646.81L1150.5 648.63L1152.0 650.45L1153.5 652.29L1155.0 654.13L1156.5 655.98L1158.0 657.83L1159.5 659.70L1161.0 661.57L1162.5 663.44L1164.0 665.33L1165.5 667.22L1167.0 669.12L1168.5 671.02L1170.0 672.93L1171.5 674.85L1173.0 676.78L1174.5 678.71L1176.0 680.65L1177.5 682.59L1179.0 684.54L1180.5 686.50L1182.0 688.46L1183.5 690.43L1185.0 692.40L1186.5 694.38L1188.0 696.37L1189.5 698.36L1191.0 700.36L1192.5 702.36L1194.0 704.37L1195.5 706.38L1197.0 708.40L1198.5 710.43L1200.0 712.46L1201.5 714.49L1203.0 716.53L1204.5 718.57L1206.0 720.62L1207.5 722.67L1209.0 724.73L1210.5 726.79L1212.0 728.86L1213.5 730.93L1215.0 733.00L1216.5 735.08L1218.0 737.16L1219.5 739.25L1221.0 741.34L1222.5 743.43L1224.0 745.53L1225.5 747.63L1227.0 749.73L1228.5 751.84L1230.0 753.95L1231.5 756.06L1233.0 758.18L1234.5 760.29L1236.0 762.42L1237.5 764.54L1239.0 766.66L1240.5 768.79L1242.0 770.92L1243.5 773.06L1245.0 775.19L1246.5 777.33L1248.0 779.47L1249.5 781.61L1251.0 783.75L1252.5 785.89L1254.0 788.04L1255.5 790.18L1257.0 792.33L1258.5 794.48L1260.0 796.63L1261.5 798.78L1263.0 800.93L1264.5 803.08L1266.0 805.23L1267.5 807.39L1269.0 809.54L1270.5 811.69L1272.0 813.85L1273.5 816.00L1275.0 818.16L1276.5 820.31L1278.0 822.46L1279.5 824.62L1281.0 826.77L1282.5 828.92L1284.0 831.07L1285.5 833.22L1287.0 835.37L1288.5 837.52L1290.0 839.67L1291.5 841.82L1293.0 843.97L1294.5 846.11L1296.0 848.25L1297.5 850.40L1299.0 852.54L1300.5 854.67L1302.0 856.81L1303.5 858.95L1305.0 861.08L1306.5 863.21L1308.0 865.34L1309.5 867.47L1311.0 869.59L1312.5 871.71L1314.0 873.83L1315.5 875.95L1317.0 878.07L1318.5 880.18L1320.0 882.29L1321.5 884.39L1323.0 886.50L1324.5 888.60L1326.0 890.70L1327.5 892.79L1329.0 894.88L1330.5 896.97L1332.0 899.06L1333.5 901.14L1335.0 903.22L1336.5 905.29L1338.0 907.36L1339.5 909.43L1341.0 911.49L1342.5 913.55L1344.0 915.61L1345.5 917.66L1347.0 919.71L1348.5 921.75L1350.0 923.79L1351.5 925.82L1353.0 927.85L1354.5 929.88L1356.0 931.90L1357.5 933.92L1359.0 935.94L1360.5 937.94L1362.0 939.95L1363.5 941.95L1365.0 943.94L1366.5 945.93L1368.0 947.92L1369.5 949.90L1371.0 951.88L1372.5 953.85L1374.0 955.81L1375.5 957.77L1377.0 959.73L1378.5 961.68L1380.0 963.63L1381.5 965.57L1383.0 967.50L1384.5 969.43L1386.0 971.36L1387.5 973.28L1389.0 975.19L1390.5 977.10L1392.0 979.00L1393.5 980.90L1395.0 982.79L1396.5 984.68L1398.0 986.56L1399.5 988.43L1401.0 990.30L1402.5 992.17L1404.0 994.03L1405.5 995.88L1407.0 997.73L1408.5 999.57L1410.0 1001.40L1411.5 1003.23L1413.0 1005.06L1414.5 1006.87L1416.0 1008.69L1417.5 1010.49L1419.0 1012.29L1420.5 1014.09L1422.0 1015.87L1423.5 1017.66L1425.0 1019.43L1426.5 1021.20L1428.0 1022.97L1429.5 1024.73L1431.0 1026.48L1432.5 1028.23L1434.0 1029.97L1435.5 1031.70L1437.0 1033.43L1438.5 1035.15L1440.0 1036.87L1441.5 1038.58L1443.0 1040.28L1444.5 1041.98L1446.0 1043.67L1447.5 1045.35L1449.0 1047.03L1450.5 1048.70L1452.0 1050.37L1453.5 1052.03L1455.0 1053.68L1456.5 1055.33L1458.0 1056.97L1459.5 1058.61L1461.0 1060.24L1462.5 1061.86L1464.0 1063.48L1465.5 1065.09L1467.0 1066.69L1468.5 1068.29L1470.0 1069.88L1471.5 1071.47L1473.0 1073.05L1474.5 1074.62L1476.0 1076.19L1477.5 1077.75L1479.0 1079.31L1480.5 1080.85L1482.0 1082.40L1483.5 1083.93L1485.0 1085.46L1486.5 1086.99L1488.0 1088.50L1489.5 1090.02L1491.0 1091.52L1492.5 1093.02L1494.0 1094.51L1495.5 1096.00L1497.0 1097.48L1498.5 1098.96L1500.0 1100.42L1501.5 1101.89L1503.0 1103.34L1504.5 1104.79L1506.0 1106.24L1507.5 1107.67L1509.0 1109.11L1510.5 1110.53L1512.0 1111.95L1513.5 1113.37L1515.0 1114.77L1516.5 1116.17L1518.0 1117.57L1519.5 1118.96L1521.0 1120.34L1522.5 1121.72L1524.0 1123.09L1525.5 1124.46L1527.0 1125.82L1528.5 1127.17L1530.0 1128.52L1531.5 1129.86L1533.0 1131.20L1534.5 1132.53L1536.0 1133.85L1537.5 1135.17L1539.0 1136.48L1540.5 1137.79L1542.0 1139.09L1543.5 1140.39L1545.0 1141.68L1546.5 1142.96L1548.0 1144.24L1549.5 1145.51L1551.0 1146.78L1552.5 1148.04L1554.0 1149.29L1555.5 1150.54L1557.0 1151.79L1558.5 1153.02L1560.0 1154.26L1561.5 1155.48L1563.0 1156.70L1564.5 1157.92L1566.0 1159.13L1567.5 1160.33L1569.0 1161.53L1570.5 1162.72L1572.0 1163.91L1573.5 1165.09L1575.0 1166.27L1576.5 1167.44L1578.0 1168.61L1579.5 1169.77L1581.0 1170.92L1582.5 1172.07L1584.0 1173.22L1585.5 1174.36L1587.0 1175.49L1588.5 1176.62L1590.0 1177.74L1591.5 1178.86L1593.0 1179.97L1594.5 1181.07L1596.0 1182.18L1597.5 1183.27L1599.0 1184.36L1600.5 1185.45L1602.0 1186.53L1603.5 1187.60L1605.0 1188.67L1606.5 1189.74L1608.0 1190.80L1609.5 1191.85L1611.0 1192.90L1612.5 1193.95L1614.0 1194.99L1615.5 1196.02L1617.0 1197.05L1618.5 1198.07L1620.0 1199.09L1621.5 1200.11L1623.0 1201.11L1624.5 1202.12L1626.0 1203.12L1627.5 1204.11L1629.0 1205.10L1630.5 1206.08L1632.0 1207.06L1633.5 1208.04L1635.0 1209.01L1636.5 1209.97L1638.0 1210.93L1639.5 1211.89L1641.0 1212.84L1642.5 1213.78L1644.0 1214.72L1645.5 1215.66L1647.0 1216.59L1648.5 1217.52L1650.0 1218.44L1651.5 1219.35L1653.0 1220.27L1654.5 1221.17L1656.0 1222.08L1657.5 1222.97L1659.0 1223.87L1660.5 1224.76L1662.0 1225.64L1663.5 1226.52L1665.0 1227.39L1666.5 1228.26L1668.0 1229.13L1669.5 1229.99L1671.0 1230.85L1672.5 1231.70L1674.0 1232.55L1675.5 1233.39L1677.0 1234.23L1678.5 1235.06L1680.0 1235.89L1681.5 1236.72L1683.0 1237.54L1684.5 1238.36L1686.0 1239.17L1687.5 1239.98L1689.0 1240.78L1690.5 1241.58L1692.0 1242.37L1693.5 1243.17L1695.0 1243.95L1696.5 1244.73L1698.0 1245.51L1699.5 1246.28L1701.0 1247.05L1702.5 1247.82L1704.0 1248.58L1705.5 1249.34L1707.0 1250.09L1708.5 1250.84L1710.0 1251.58L1711.5 1252.32L1713.0 1253.05L1714.5 1253.79L1716.0 1254.51L1717.5 1255.24L1719.0 1255.96L1720.5 1256.67L1722.0 1257.38L1723.5 1258.09L1725.0 1258.79L1726.5 1259.49L1728.0 1260.18L1729.5 1260.88L1731.0 1261.56L1732.5 1262.24L1734.0 1262.92L1735.5 1263.60L1737.0 1264.27L1738.5 1264.94L1740.0 1265.60L1741.5 1266.26L1743.0 1266.91L1744.5 1267.57L1746.0 1268.21L1747.5 1268.86L1749.0 1269.50L1750.5 1270.13L1752.0 1270.77L1753.5 1271.39L1755.0 1272.02L1756.5 1272.64L1758.0 1273.26L1759.5 1273.87L1761.0 1274.48L1762.5 1275.09L1764.0 1275.69L1765.5 1276.29L1767.0 1276.88L1768.5 1277.47L1770.0 1278.06L1771.5 1278.64L1773.0 1279.22L1774.5 1279.80L1776.0 1280.37L1777.5 1280.94L1779.0 1281.51L1780.5 1282.07L1782.0 1282.63L1783.5 1283.19L1785.0 1283.74L1786.5 1284.29L1788.0 1284.83L1789.5 1285.37L1791.0 1285.91L1792.5 1286.44L1794.0 1286.97L1795.5 1287.50L1797.0 1288.03L1798.5 1288.55L1800.0 1289.06L1801.5 1289.58L1803.0 1290.09L1804.5 1290.59L1806.0 1291.10L1807.5 1291.60L1809.0 1292.09L1810.5 1292.59L1812.0 1293.08L1813.5 1293.57L1815.0 1294.05L1816.5 1294.53L1818.0 1295.01L1819.5 1295.48L1821.0 1295.95L1822.5 1296.42L1824.0 1296.88L1825.5 1297.34L1827.0 1297.80L1828.5 1298.26L1830.0 1298.71L1831.5 1299.16L1833.0 1299.60L1834.5 1300.04L1836.0 1300.48L1837.5 1300.92L1839.0 1301.35L1840.5 1301.78L1842.0 1302.21L1843.5 1302.63L1845.0 1303.05L1846.5 1303.47L1848.0 1303.88L1849.5 1304.30L1851.0 1304.70L1852.5 1305.11L1854.0 1305.51L1855.5 1305.91L1857.0 1306.31L1858.5 1306.70L1860.0 1307.09L1861.5 1307.48L1863.0 1307.87L1864.5 1308.25L1866.0 1308.63L1867.5 1309.01L1869.0 1309.38L1870.5 1309.75L1872.0 1310.12L1873.5 1310.49L1875.0 1310.85L1876.5 1311.21L1878.0 1311.57L1879.5 1311.92L1881.0 1312.27L1882.5 1312.62L1884.0 1312.97L1885.5 1313.31" stroke="#0000ff"/>
<path d="M201.0 1365.90L202.5 1365.88L204.0 1365.87L205.5 1365.85L207.0 1365.82L208.5 1365.79L210.0 1365.76L211.5 1365.72L213.0 1365.68L214.5 1365.64L216.0 1365.59L217.5 1365.53L219.0 1365.47L220.5 1365.41L222.0 1365.35L223.5 1365.27L225.0 1365.20L226.5 1365.12L228.0 1365.03L229.5 1364.94L231.0 1364.85L232.5 1364.75L234.0 1364.64L235.5 1364.53L237.0 1364.42L238.5 1364.30L240.0 1364.18L241.5 1364.05L243.0 1363.91L244.5 1363.77L246.0 1363.63L247.5 1363.48L249.0 1363.32L250.5 1363.16L252.0 1363.00L253.5 1362.82L255.0 1362.65L256.5 1362.46L258.0 1362.28L259.5 1362.08L261.0 1361.88L262.5 1361.68L264.0 1361.46L265.5 1361.25L267.0 1361.02L268.5 1360.79L270.0 1360.56L271.5 1360.32L273.0 1360.07L274.5 1359.81L276.0 1359.55L277.5 1359.29L279.0 1359.01L280.5 1358.73L282.0 1358.45L283.5 1358.15L285.0 1357.85L286.5 1357.55L288.0 1357.23L289.5 1356.91L291.0 1356.59L292.5 1356.25L294.0 1355.91L295.5 1355.56L297.0 1355.21L298.5 1354.84L300.0 1354.47L301.5 1354.09L303.0 1353.71L304.5 1353.32L306.0 1352.92L307.5 1352.51L309.0 1352.09L310.5 1351.67L312.0 1351.24L313.5 1350.80L315.0 1350.35L316.5 1349.89L318.0 1349.43L319.5 1348.96L321.0 1348.48L322.5 1347.99L324.0 1347.49L325.5 1346.99L327.0 1346.47L328.5 1345.95L330.0 1345.42L331.5 1344.88L333.0 1344.33L334.5 1343.77L336.0 1343.20L337.5 1342.62L339.0 1342.04L340.5 1341.44L342.0 1340.84L343.5 1340.22L345.0 1339.60L346.5 1338.97L348.0 1338.32L349.5 1337.67L351.0 1337.01L352.5 1336.34L354.0 1335.65L355.5 1334.96L357.0 1334.26L358.5 1333.54L360.0 1332.82L361.5 1332.09L363.0 1331.34L364.5 1330.59L366.0 1329.82L367.5 1329.05L369.0 1328.26L370.5 1327.46L372.0 1326.65L373.5 1325.83L375.0 1325.00L376.5 1324.16L378.0 1323.30L379.5 1322.43L381.0 1321.56L382.5 1320.67L384.0 1319.77L385.5 1318.85L387.0 1317.93L388.5 1316.99L390.0 1316.04L391.5 1315.08L393.0 1314.11L394.5 1313.12L396.0 1312.13L397.5 1311.12L399.0 1310.09L400.5 1309.06L402.0 1308.01L403.5 1306.94L405.0 1305.87L406.5 1304.78L408.0 1303.68L409.5 1302.57L411.0 1301.44L412.5 1300.30L414.0 1299.14L415.5 1297.97L417.0 1296.79L418.5 1295.59L420.0 1294.38L421.5 1293.15L423.0 1291.92L424.5 1290.66L426.0 1289.39L427.5 1288.11L429.0 1286.81L430.5 1285.50L432.0 1284.18L433.5 1282.83L435.0 1281.48L436.5 1280.11L438.0 1278.72L439.5 1277.32L441.0 1275.90L442.5 1274.47L444.0 1273.02L445.5 1271.55L447.0 1270.07L448.5 1268.58L450.0 1267.07L451.5 1265.54L453.0 1263.99L454.5 1262.43L456.0 1260.86L457.5 1259.26L459.0 1257.66L460.5 1256.03L462.0 1254.39L463.5 1252.73L465.0 1251.05L466.5 1249.36L468.0 1247.65L469.5 1245.92L471.0 1244.18L472.5 1242.41L474.0 1240.64L475.5 1238.84L477.0 1237.03L478.5 1235.19L480.0 1233.34L481.5 1231.48L483.0 1229.59L484.5 1227.69L486.0 1225.77L487.5 1223.83L489.0 1221.88L490.5 1219.90L492.0 1217.91L493.5 1215.90L495.0 1213.87L496.5 1211.82L498.0 1209.76L499.5 1207.67L501.0 1205.57L502.5 1203.45L504.0 1201.31L505.5 1199.15L507.0 1196.98L508.5 1194.78L510.0 1192.57L511.5 1190.33L513.0 1188.08L514.5 1185.81L516.0 1183.53L517.5 1181.22L519.0 1178.89L520.5 1176.55L522.0 1174.18L523.5 1171.80L525.0 1169.40L526.5 1166.98L528.0 1164.54L529.5 1162.09L531.0 1159.61L532.5 1157.12L534.0 1154.61L535.5 1152.07L537.0 1149.52L538.5 1146.96L540.0 1144.37L541.5 1141.77L543.0 1139.14L544.5 1136.50L546.0 1133.84L547.5 1131.17L549.0 1128.47L550.5 1125.76L552.0 1123.03L553.5 1120.28L555.0 1117.51L556.5 1114.73L558.0 1111.93L559.5 1109.11L561.0 1106.27L562.5 1103.42L564.0 1100.55L565.5 1097.67L567.0 1094.76L568.5 1091.84L570.0 1088.91L571.5 1085.96L573.0 1082.99L574.5 1080.01L576.0 1077.01L577.5 1073.99L579.0 1070.96L580.5 1067.92L582.0 1064.86L583.5 1061.78L585.0 1058.69L586.5 1055.59L588.0 1052.47L589.5 1049.34L591.0 1046.19L592.5 1043.03L594.0 1039.86L595.5 1036.68L597.0 1033.48L598.5 1030.27L600.0 1027.04L601.5 1023.81L603.0 1020.56L604.5 1017.30L606.0 1014.04L607.5 1010.75L609.0 1007.46L610.5 1004.16L612.0 1000.85L613.5 997.53L615.0 994.20L616.5 990.86L618.0 987.51L619.5 984.15L621.0 980.78L622.5 977.41L624.0 974.02L625.5 970.63L627.0 967.24L628.5 963.83L630.0 960.42L631.5 957.00L633.0 953.58L634.5 950.15L636.0 946.72L637.5 943.28L639.0 939.84L640.5 936.39L642.0 932.94L643.5 929.48L645.0 926.02L646.5 922.56L648.0 919.09L649.5 915.63L651.0 912.16L652.5 908.69L654.0 905.21L655.5 901.74L657.0 898.27L658.5 894.79L660.0 891.32L661.5 887.84L663.0 884.37L664.5 880.89L666.0 877.42L667.5 873.95L669.0 870.48L670.5 867.02L672.0 863.55L673.5 860.09L675.0 856.63L676.5 853.18L678.0 849.73L679.5 846.28L681.0 842.84L682.5 839.40L684.0 835.97L685.5 832.54L687.0 829.12L688.5 825.70L690.0 822.29L691.5 818.88L693.0 815.49L694.5 812.09L696.0 808.71L697.5 805.33L699.0 801.96L700.5 798.60L702.0 795.25L703.5 791.91L705.0 788.57L706.5 785.24L708.0 781.93L709.5 778.62L711.0 775.32L712.5 772.03L714.0 768.75L715.5 765.48L717.0 762.22L718.5 758.98L720.0 755.74L721.5 752.51L723.0 749.30L724.5 746.10L726.0 742.90L727.5 739.73L729.0 736.56L730.5 733.40L732.0 730.26L733.5 727.13L735.0 724.01L736.5 720.91L738.0 717.82L739.5 714.74L741.0 711.67L742.5 708.62L744.0 705.58L745.5 702.56L747.0 699.55L748.5 696.55L750.0 693.57L751.5 690.60L753.0 687.65L754.5 684.71L756.0 681.78L757.5 678.87L759.0 675.98L760.5 673.10L762.0 670.23L763.5 667.38L765.0 664.55L766.5 661.73L768.0 658.92L769.5 656.13L771.0 653.36L772.5 650.60L774.0 647.86L775.5 645.14L777.0 642.43L778.5 639.74L780.0 637.06L781.5 634.40L783.0 631.75L784.5 629.12L786.0 626.51L787.5 623.92L789.0 621.34L790.5 618.78L792.0 616.23L793.5 613.70L795.0 611.19L796.5 608.70L798.0 606.22L799.5 603.76L801.0 601.32L802.5 598.89L804.0 596.49L805.5 594.10L807.0 591.72L808.5 589.37L810.0 587.03L811.5 584.71L813.0 582.41L814.5 580.12L816.0 577.86L817.5 575.61L819.0 573.38L820.5 571.17L822.0 568.98L823.5 566.80L825.0 564.64L826.5 562.51L828.0 560.39L829.5 558.29L831.0 556.21L832.5 554.14L834.0 552.10L835.5 550.08L837.0 548.07L838.5 546.09L840.0 544.12L841.5 542.17L843.0 540.25L844.5 538.34L846.0 536.45L847.5 534.59L849.0 532.74L850.5 530.91L852.0 529.11L853.5 527.32L855.0 525.55L856.5 523.81L858.0 522.08L859.5 520.38L861.0 518.70L862.5 517.04L864.0 515.40L865.5 513.78L867.0 512.18L868.5 510.60L870.0 509.05L871.5 507.52L873.0 506.00L874.5 504.52L876.0 503.05L877.5 501.60L879.0 500.18L880.5 498.78L882.0 497.41L883.5 496.05L885.0 494.72L886.5 493.41L888.0 492.13L889.5 490.86L891.0 489.62L892.5 488.41L894.0 487.21L895.5 486.05L897.0 484.90L898.5 483.78L900.0 482.68L901.5 481.61L903.0 480.56L904.5 479.53L906.0 478.53L907.5 477.55L909.0 476.60L910.5 475.67L912.0 474.77L913.5 473.89L915.0 473.04L916.5 472.21L918.0 471.40L919.5 470.62L921.0 469.87L922.5 469.14L924.0 468.43L925.5 467.75L927.0 467.10L928.5 466.47L930.0 465.86L931.5 465.28L933.0 464.73L934.5 464.20L936.0 463.70L937.5 463.22L939.0 462.76L940.5 462.34L942.0 461.93L943.5 461.56L945.0 461.20L946.5 460.88L948.0 460.57L949.5 460.30L951.0 460.04L952.5 459.82L954.0 459.62L955.5 459.44L957.0 459.28L958.5 459.16L960.0 459.05L961.5 458.97L963.0 458.92L964.5 458.89L966.0 458.88L967.5 458.90L969.0 458.95L970.5 459.01L972.0 459.10L973.5 459.22L975.0 459.35L976.5 459.52L978.0 459.70L979.5 459.91L981.0 460.14L982.5 460.39L984.0 460.67L985.5 460.97L987.0 461.29L988.5 461.63L990.0 462.00L991.5 462.39L993.0 462.80L994.5 463.23L996.0 463.68L997.5 464.16L999.0 464.65L1000.5 465.17L1002.0 465.71L1003.5 466.27L1005.0 466.85L1006.5 467.45L1008.0 468.06L1009.5 468.70L1011.0 469.36L1012.5 470.04L1014.0 470.74L1015.5 471.46L1017.0 472.20L1018.5 472.95L1020.0 473.73L1021.5 474.52L1023.0 475.33L1024.5 476.16L1026.0 477.01L1027.5 477.88L1029.0 478.76L1030.5 479.66L1032.0 480.58L1033.5 481.52L1035.0 482.47L1036.5 483.44L1038.0 484.43L1039.5 485.44L1041.0 486.46L1042.5 487.50L1044.0 488.55L1045.5 489.62L1047.0 490.71L1048.5 491.81L1050.0 492.93L1051.5 494.07L1053.0 495.22L1054.5 496.38L1056.0 497.56L1057.5 498.76L1059.0 499.97L1060.5 501.20L1062.0 502.44L1063.5 503.70L1065.0 504.97L1066.5 506.26L1068.0 507.56L1069.5 508.88L1071.0 510.21L1072.5 511.55L1074.0 512.91L1075.5 514.28L1077.0 515.67L1078.5 517.07L1080.0 518.49L1081.5 519.92L1083.0 521.36L1084.5 522.82L1086.0 524.29L1087.5 525.77L1089.0 527.27L1090.5 528.79L1092.0 530.31L1093.5 531.85L1095.0 533.40L1096.5 534.97L1098.0 536.55L1099.5 538.14L1101.0 539.74L1102.5 541.36L1104.0 542.99L1105.5 544.63L1107.0 546.29L1108.5 547.96L1110.0 549.64L1111.5 551.33L1113.0 553.04L1114.5 554.76L1116.0 556.49L1117.5 558.23L1119.0 559.99L1120.5 561.75L1122.0 563.53L1123.5 565.32L1125.0 567.13L1126.5 568.94L1128.0 570.77L1129.5 572.60L1131.0 574.45L1132.5 576.31L1134.0 578.18L1135.5 580.06L1137.0 581.96L1138.5 583.86L1140.0 585.77L1141.5 587.70L1143.0 589.63L1144.5 591.58L1146.0 593.53L1147.5 595.50L1149.0 597.47L1150.5 599.46L1152.0 601.45L1153.5 603.46L1155.0 605.47L1156.5 607.49L1158.0 609.53L1159.5 611.57L1161.0 613.62L1162.5 615.68L1164.0 617.74L1165.5 619.82L1167.0 621.90L1168.5 623.99L1170.0 626.09L1171.5 628.20L1173.0 630.31L1174.5 632.43L1176.0 634.56L1177.5 636.70L1179.0 638.84L1180.5 640.99L1182.0 643.15L1183.5 645.31L1185.0 647.48L1186.5 649.66L1188.0 651.84L1189.5 654.03L1191.0 656.22L1192.5 658.42L1194.0 660.63L1195.5 662.84L1197.0 665.05L1198.5 667.27L1200.0 669.49L1201.5 671.72L1203.0 673.96L1204.5 676.20L1206.0 678.44L1207.5 680.68L1209.0 682.93L1210.5 685.19L1212.0 687.44L1213.5 689.70L1215.0 691.97L1216.5 694.23L1218.0 696.50L1219.5 698.78L1221.0 701.05L1222.5 703.33L1224.0 705.61L1225.5 707.89L1227.0 710.18L1228.5 712.46L1230.0 714.75L1231.5 717.04L1233.0 719.33L1234.5 721.63L1236.0 723.92L1237.5 726.22L1239.0 728.51L1240.5 730.81L1242.0 733.11L1243.5 735.41L1245.0 737.71L1246.5 740.01L1248.0 742.31L1249.5 744.61L1251.0 746.91L1252.5 749.22L1254.0 751.52L1255.5 753.82L1257.0 756.12L1258.5 758.42L1260.0 760.72L1261.5 763.02L1263.0 765.32L1264.5 767.61L1266.0 769.91L1267.5 772.21L1269.0 774.50L1270.5 776.79L1272.0 779.09L1273.5 781.38L1275.0 783.67L1276.5 785.95L1278.0 788.24L1279.5 790.53L1281.0 792.81L1282.5 795.09L1284.0 797.37L1285.5 799.64L1287.0 801.92L1288.5 804.19L1290.0 806.46L1291.5 808.73L1293.0 811.00L1294.5 813.26L1296.0 815.52L1297.5 817.78L1299.0 820.03L1300.5 822.28L1302.0 824.53L1303.5 826.78L1305.0 829.02L1306.5 831.26L1308.0 833.50L1309.5 835.74L1311.0 837.97L1312.5 840.20L1314.0 842.42L1315.5 844.64L1317.0 846.86L1318.5 849.07L1320.0 851.28L1321.5 853.49L1323.0 855.69L1324.5 857.89L1326.0 860.09L1327.5 862.28L1329.0 864.47L1330.5 866.65L1332.0 868.83L1333.5 871.01L1335.0 873.18L1336.5 875.35L1338.0 877.52L1339.5 879.67L1341.0 881.83L1342.5 883.98L1344.0 886.13L1345.5 888.27L1347.0 890.41L1348.5 892.54L1350.0 894.67L1351.5 896.80L1353.0 898.92L1354.5 901.03L1356.0 903.14L1357.5 905.25L1359.0 907.35L1360.5 909.45L1362.0 911.54L1363.5 913.63L1365.0 915.71L1366.5 917.79L1368.0 919.86L1369.5 921.92L1371.0 923.99L1372.5 926.04L1374.0 928.10L1375.5 930.14L1377.0 932.19L1378.5 934.22L1380.0 936.25L1381.5 938.28L1383.0 940.30L1384.5 942.32L1386.0 944.33L1387.5 946.34L1389.0 948.34L1390.5 950.33L1392.0 952.32L1393.5 954.30L1395.0 956.28L1396.5 958.26L1398.0 960.22L1399.5 962.19L1401.0 964.14L1402.5 966.09L1404.0 968.04L1405.5 969.98L1407.0 971.91L1408.5 973.84L1410.0 975.77L1411.5 977.68L1413.0 979.60L1414.5 981.50L1416.0 983.40L1417.5 985.30L1419.0 987.19L1420.5 989.07L1422.0 990.95L1423.5 992.82L1425.0 994.68L1426.5 996.54L1428.0 998.40L1429.5 1000.25L1431.0 1002.09L1432.5 1003.92L1434.0 1005.75L1435.5 1007.58L1437.0 1009.40L1438.5 1011.21L1440.0 1013.02L1441.5 1014.82L1443.0 1016.61L1444.5 1018.40L1446.0 1020.18L1447.5 1021.96L1449.0 1023.73L1450.5 1025.50L1452.0 1027.25L1453.5 1029.01L1455.0 1030.75L1456.5 1032.49L1458.0 1034.23L1459.5 1035.96L1461.0 1037.68L1462.5 1039.39L1464.0 1041.10L1465.5 1042.81L1467.0 1044.51L1468.5 1046.20L1470.0 1047.88L1471.5 1049.56L1473.0 1051.24L1474.5 1052.90L1476.0 1054.56L1477.5 1056.22L1479.0 1057.87L1480.5 1059.51L1482.0 1061.14L1483.5 1062.77L1485.0 1064.40L1486.5 1066.01L1488.0 1067.63L1489.5 1069.23L1491.0 1070.83L1492.5 1072.42L1494.0 1074.01L1495.5 1075.59L1497.0 1077.16L1498.5 1078.73L1500.0 1080.29L1501.5 1081.85L1503.0 1083.39L1504.5 1084.94L1506.0 1086.47L1507.5 1088.00L1509.0 1089.53L1510.5 1091.05L1512.0 1092.56L1513.5 1094.06L1515.0 1095.56L1516.5 1097.05L1518.0 1098.54L1519.5 1100.02L1521.0 1101.50L1522.5 1102.96L1524.0 1104.43L1525.5 1105.88L1527.0 1107.33L1528.5 1108.77L1530.0 1110.21L1531.5 1111.64L1533.0 1113.07L1534.5 1114.48L1536.0 1115.90L1537.5 1117.30L1539.0 1118.70L1540.5 1120.10L1542.0 1121.48L1543.5 1122.86L1545.0 1124.24L1546.5 1125.61L1548.0 1126.97L1549.5 1128.33L1551.0 1129.68L1552.5 1131.02L1554.0 1132.36L1555.5 1133.69L1557.0 1135.02L1558.5 1136.34L1560.0 1137.65L1561.5 1138.96L1563.0 1140.26L1564.5 1141.56L1566.0 1142.85L1567.5 1144.13L1569.0 1145.41L1570.5 1146.68L1572.0 1147.95L1573.5 1149.21L1575.0 1150.46L1576.5 1151.71L1578.0 1152.95L1579.5 1154.19L1581.0 1155.42L1582.5 1156.64L1584.0 1157.86L1585.5 1159.07L1587.0 1160.28L1588.5 1161.48L1590.0 1162.68L1591.5 1163.86L1593.0 1165.05L1594.5 1166.22L1596.0 1167.40L1597.5 1168.56L1599.0 1169.72L1600.5 1170.88L1602.0 1172.02L1603.5 1173.17L1605.0 1174.30L1606.5 1175.43L1608.0 1176.56L1609.5 1177.68L1611.0 1178.79L1612.5 1179.90L1614.0 1181.01L1615.5 1182.10L1617.0 1183.19L1618.5 1184.28L1620.0 1185.36L1621.5 1186.44L1623.0 1187.51L1624.5 1188.57L1626.0 1189.63L1627.5 1190.68L1629.0 1191.73L1630.5 1192.77L1632.0 1193.81L1633.5 1194.84L1635.0 1195.87L1636.5 1196.89L1638.0 1197.90L1639.5 1198.91L1641.0 1199.92L1642.5 1200.92L1644.0 1201.91L1645.5 1202.90L1647.0 1203.88L1648.5 1204.86L1650.0 1205.84L1651.5 1206.80L1653.0 1207.77L1654.5 1208.72L1656.0 1209.68L1657.5 1210.63L1659.0 1211.57L1660.5 1212.51L1662.0 1213.44L1663.5 1214.37L1665.0 1215.29L1666.5 1216.21L1668.0 1217.12L1669.5 1218.03L1671.0 1218.93L1672.5 1219.83L1674.0 1220.73L1675.5 1221.61L1677.0 1222.50L1678.5 1223.38L1680.0 1224.25L1681.5 1225.12L1683.0 1225.99L1684.5 1226.85L1686.0 1227.70L1687.5 1228.56L1689.0 1229.40L1690.5 1230.25L1692.0 1231.08L1693.5 1231.92L1695.0 1232.75L1696.5 1233.57L1698.0 1234.39L1699.5 1235.21L1701.0 1236.02L1702.5 1236.83L1704.0 1237.63L1705.5 1238.43L1707.0 1239.22L1708.5 1240.01L1710.0 1240.80L1711.5 1241.58L1713.0 1242.36L1714.5 1243.13L1716.0 1243.90L1717.5 1244.66L1719.0 1245.42L1720.5 1246.18L1722.0 1246.93L1723.5 1247.68L1725.0 1248.43L1726.5 1249.17L1728.0 1249.91L1729.5 1250.64L1731.0 1251.37L1732.5 1252.10L1734.0 1252.82L1735.5 1253.54L1737.0 1254.25L1738.5 1254.96L1740.0 1255.67L1741.5 1256.37L1743.0 1257.08L1744.5 1257.77L1746.0 1258.47L1747.5 1259.15L1749.0 1259.84L1750.5 1260.52L1752.0 1261.20L1753.5 1261.88L1755.0 1262.55L1756.5 1263.22L1758.0 1263.89L1759.5 1264.55L1761.0 1265.21L1762.5 1265.86L1764.0 1266.52L1765.5 1267.17L1767.0 1267.81L1768.5 1268.46L1770.0 1269.10L1771.5 1269.73L1773.0 1270.37L1774.5 1271.00L1776.0 1271.63L1777.5 1272.25L1779.0 1272.88L1780.5 1273.50L1782.0 1274.11L1783.5 1274.73L1785.0 1275.34L1786.5 1275.95L1788.0 1276.55L1789.5 1277.16L1791.0 1277.76L1792.5 1278.35L1794.0 1278.95L1795.5 1279.54L1797.0 1280.13L1798.5 1280.72L1800.0 1281.31L1801.5 1281.89L1803.0 1282.47L1804.5 1283.05L1806.0 1283.62L1807.5 1284.19L1809.0 1284.76L1810.5 1285.33L1812.0 1285.90L1813.5 1286.46L1815.0 1287.02L1816.5 1287.58L1818.0 1288.14L1819.5 1288.70L1821.0 1289.25L1822.5 1289.80L1824.0 1290.35L1825.5 1290.90L1827.0 1291.44L1828.5 1291.98L1830.0 1292.53L1831.5 1293.06L1833.0 1293.60L1834.5 1294.14L1836.0 1294.67L1837.5 1295.20L1839.0 1295.73L1840.5 1296.26L1842.0 1296.79L1843.5 1297.31L1845.0 1297.84L1846.5 1298.36L1848.0 1298.88L1849.5 1299.40L1851.0 1299.92L1852.5 1300.43L1854.0 1300.95L1855.5 1301.46L1857.0 1301.97L1858.5 1302.48L1860.0 1302.99L1861.5 1303.49L1863.0 1304.00L1864.5 1304.50L1866.0 1305.01L1867.5 1305.51L1869.0 1306.01L1870.5 1306.51L1872.0 1307.01L1873.5 1307.51L1875.0 1308.00L1876.5 1308.50L1878.0 1308.99L1879.5 1309.48L1881.0 1309.98L1882.5 1310.47L1884.0 1310.96L1885.5 1311.45" stroke="#ff00ff"/>
</g>
<rect x="203" y="37" width="1680.5" height="1358" fill="none" stroke="#000" stroke-width="5.2" stroke-linejoin="round"/>
<g stroke="#000" stroke-width="5" stroke-linecap="round"><line x1="203.0" y1="1395" x2="203.0" y2="1421"/><line x1="343.0" y1="1395" x2="343.0" y2="1408"/><line x1="483.1" y1="1395" x2="483.1" y2="1421"/><line x1="623.1" y1="1395" x2="623.1" y2="1408"/><line x1="763.2" y1="1395" x2="763.2" y2="1421"/><line x1="903.2" y1="1395" x2="903.2" y2="1408"/><line x1="1043.2" y1="1395" x2="1043.2" y2="1421"/><line x1="1183.3" y1="1395" x2="1183.3" y2="1408"/><line x1="1323.3" y1="1395" x2="1323.3" y2="1421"/><line x1="1463.4" y1="1395" x2="1463.4" y2="1408"/><line x1="1603.4" y1="1395" x2="1603.4" y2="1421"/><line x1="1743.5" y1="1395" x2="1743.5" y2="1408"/><line x1="1883.5" y1="1395" x2="1883.5" y2="1421"/></g>
<g font-family="'Liberation Serif', serif" font-size="74" text-anchor="middle" fill="#000" stroke="#000" stroke-width="1.4"><text x="203.5" y="1502">340</text><text x="483.6" y="1502">360</text><text x="763.7" y="1502">380</text><text x="1043.8" y="1502">400</text><text x="1323.8" y="1502">420</text><text x="1603.9" y="1502">440</text><text x="1884.0" y="1502">460</text></g>
<rect x="1222" y="50" width="641" height="328.5" fill="#fff" stroke="#4a4a4a" stroke-width="2"/>
<line x1="1232.5" y1="95.0" x2="1375.5" y2="95.0" stroke="#ff0000" stroke-width="10" stroke-linecap="round"/>
<line x1="1232.5" y1="175.0" x2="1375.5" y2="175.0" stroke="#00ff00" stroke-width="10" stroke-linecap="round"/>
<line x1="1232.5" y1="254.5" x2="1375.5" y2="254.5" stroke="#0000ff" stroke-width="10" stroke-linecap="round"/>
<line x1="1232.5" y1="334.0" x2="1375.5" y2="334.0" stroke="#ff00ff" stroke-width="10" stroke-linecap="round"/>
<g font-family="'Liberation Serif', serif" font-size="73" fill="#000" stroke="#000" stroke-width="1.1">
<text transform="translate(1414.26 121.00) scale(0.806 1)">F</text>
<text transform="translate(1447.22 121.00) scale(0.905 1)">T</text>
<text transform="translate(1484.84 121.00) scale(0.680 1)" font-weight="bold">O</text>
<text transform="translate(1409.87 200.50) scale(1.052 1)">7</text>
<text transform="translate(1446.91 200.50) scale(1.180 1)">.</text>
<text transform="translate(1485.61 200.50) scale(1.015 1)">4</text>
<text transform="translate(1517.12 200.50) scale(0.644 1)" font-weight="bold">%</text>
<text transform="translate(1594.41 200.50) scale(0.821 1)">C</text>
<text transform="translate(1632.88 200.50) scale(1.000 1)">u</text>
<text transform="translate(1675.83 203.00) scale(1.180 1.200)">/</text>
<text transform="translate(1708.26 200.50) scale(0.806 1)">F</text>
<text transform="translate(1741.22 200.50) scale(0.905 1)">T</text>
<text transform="translate(1778.84 200.50) scale(0.680 1)" font-weight="bold">O</text>
<text transform="translate(1409.91 280.50) scale(1.077 1)">1</text>
<text transform="translate(1449.12 280.50) scale(1.000 1)">9</text>
<text transform="translate(1483.66 280.50) scale(1.180 1)">.</text>
<text transform="translate(1521.42 280.50) scale(1.067 1)">2</text>
<text transform="translate(1553.87 280.50) scale(0.644 1)" font-weight="bold">%</text>
<text transform="translate(1631.16 280.50) scale(0.821 1)">C</text>
<text transform="translate(1669.62 280.50) scale(1.000 1)">u</text>
<text transform="translate(1712.58 283.00) scale(1.180 1.200)">/</text>
<text transform="translate(1745.01 280.50) scale(0.806 1)">F</text>
<text transform="translate(1777.97 280.50) scale(0.905 1)">T</text>
<text transform="translate(1815.59 280.50) scale(0.680 1)" font-weight="bold">O</text>
<text transform="translate(1411.17 360.50) scale(1.067 1)">2</text>
<text transform="translate(1448.03 360.50) scale(1.032 1)">8</text>
<text transform="translate(1483.66 360.50) scale(1.180 1)">.</text>
<text transform="translate(1522.36 360.50) scale(1.015 1)">4</text>
<text transform="translate(1553.87 360.50) scale(0.644 1)" font-weight="bold">%</text>
<text transform="translate(1631.16 360.50) scale(0.821 1)">C</text>
<text transform="translate(1669.62 360.50) scale(1.000 1)">u</text>
<text transform="translate(1712.58 363.00) scale(1.180 1.200)">/</text>
<text transform="translate(1745.01 360.50) scale(0.806 1)">F</text>
<text transform="translate(1777.97 360.50) scale(0.905 1)">T</text>
<text transform="translate(1815.59 360.50) scale(0.680 1)" font-weight="bold">O</text>
<text transform="translate(679.17 1118.50) scale(1.067 1)">2</text>
<text transform="translate(715.49 1118.50) scale(1.033 1)">5</text>
<text transform="translate(752.18 1118.50) scale(1.065 1)">0</text>
<text transform="translate(826.59 1118.50) scale(1.015 1)">n</text>
<text transform="translate(862.35 1118.50) scale(0.638 1)" font-weight="bold">m</text>
<text transform="translate(936.68 1118.50) scale(1.148 1)">e</text>
<text transform="translate(974.40 1118.50) scale(0.971 1)">x</text>
<text transform="translate(1010.79 1118.50) scale(1.111 1)">c</text>
<text transform="translate(1054.08 1118.50) scale(1.180 1)">i</text>
<text transform="translate(1090.23 1118.50) scale(1.180 1)">t</text>
<text transform="translate(1120.39 1118.50) scale(1.117 1)">a</text>
<text transform="translate(1163.73 1118.50) scale(1.180 1)">t</text>
<text transform="translate(1201.08 1118.50) scale(1.180 1)">i</text>
<text transform="translate(1231.12 1118.50) scale(1.000 1)">o</text>
<text transform="translate(1267.59 1118.50) scale(1.015 1)">n</text>
<text transform="translate(785.54 1605.00) scale(0.535 1)" font-weight="bold">W</text>
<text transform="translate(822.84 1605.00) scale(1.117 1)">a</text>
<text transform="translate(862.33 1605.00) scale(0.878 1)">v</text>
<text transform="translate(896.38 1605.00) scale(1.148 1)">e</text>
<text transform="translate(940.28 1605.00) scale(1.180 1)">l</text>
<text transform="translate(969.88 1605.00) scale(1.148 1)">e</text>
<text transform="translate(1006.79 1605.00) scale(1.015 1)">n</text>
<text transform="translate(1043.33 1605.00) scale(1.000 1)">g</text>
<text transform="translate(1086.68 1605.00) scale(1.180 1)">t</text>
<text transform="translate(1118.12 1605.00) scale(0.957 1)">h</text>
<text transform="translate(1162.05 1598.00) scale(0.842 1)">(</text>
<text transform="translate(1190.54 1605.00) scale(1.015 1)">n</text>
<text transform="translate(1226.30 1605.00) scale(0.638 1)" font-weight="bold">m</text>
<text transform="translate(1273.14 1598.00) scale(0.842 1)">)</text>
</g>
<g font-family="'Liberation Serif', serif" font-size="73" fill="#000" stroke="#000" stroke-width="1.1" transform="translate(88.3 0) rotate(-90)">
<text transform="translate(-975.27 0.00) scale(1.180 1)">I</text>
<text transform="translate(-942.56 0.00) scale(1.015 1)">n</text>
<text transform="translate(-899.41 0.00) scale(1.180 1)">t</text>
<text transform="translate(-869.22 0.00) scale(1.148 1)">e</text>
<text transform="translate(-832.31 0.00) scale(1.015 1)">n</text>
<text transform="translate(-793.88 0.00) scale(1.180 1)">s</text>
<text transform="translate(-751.82 0.00) scale(1.180 1)">i</text>
<text transform="translate(-715.66 0.00) scale(1.180 1)">t</text>
<text transform="translate(-683.97 0.00) scale(0.943 1)">y</text>
<text transform="translate(-640.30 -7.00) scale(0.842 1)">(</text>
<text transform="translate(-612.01 0.00) scale(1.117 1)">a</text>
<text transform="translate(-576.49 0.00) scale(1.180 1)">.</text>
<text transform="translate(-537.52 0.00) scale(1.000 1)">u</text>
<text transform="translate(-502.98 0.00) scale(1.180 1)">.</text>
<text transform="translate(-455.71 -7.00) scale(0.842 1)">)</text>
</g>
</svg>
</body></html>
